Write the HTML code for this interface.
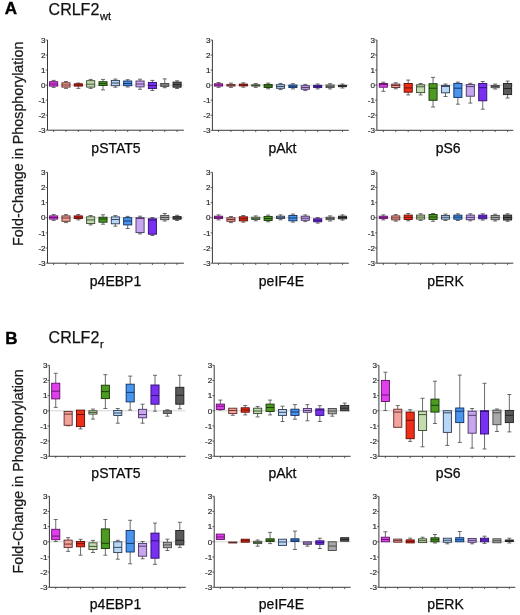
<!DOCTYPE html>
<html><head><meta charset="utf-8">
<style>
html,body{margin:0;padding:0;background:#fff;}
body{width:520px;height:615px;overflow:hidden;}
svg{display:block;font-family:"Liberation Sans",sans-serif;will-change:transform;}
.t{font-size:8.1px;fill:#1c1c1c;text-anchor:end;stroke:#2a2a2a;stroke-width:0.18px;}
.l{font-size:14px;fill:#0a0a0a;text-anchor:middle;stroke:#0a0a0a;stroke-width:0.25px;}
.h{font-size:16px;fill:#111;stroke:#111;stroke-width:0.25px;}
.b{font-size:17px;font-weight:bold;fill:#000;stroke:#000;stroke-width:0.4px;}
.y{font-size:14.3px;fill:#1a1a1a;text-anchor:middle;stroke:#1a1a1a;stroke-width:0.25px;}
</style></head>
<body>
<svg width="520" height="615" viewBox="0 0 520 615">
<text x="4.8" y="13.8" class="b">A</text>
<text x="48.6" y="15.3" class="h">CRLF2<tspan font-size="11" dx="0.8" dy="4.2">wt</tspan></text>
<text x="5.2" y="344" class="b">B</text>
<text x="48.6" y="343.3" class="h">CRLF2<tspan font-size="11" dx="0.8" dy="4.2">r</tspan></text>
<text transform="translate(23.2 143.8) rotate(-90)" class="y">Fold-Change in Phosphorylation</text>
<text transform="translate(23.2 471.4) rotate(-90)" class="y">Fold-Change in Phosphorylation</text>
<line x1="47.5" y1="85.1" x2="183.9" y2="85.1" stroke="#d2d2d2" stroke-width="0.9"/>
<line x1="53.63" y1="80.4" x2="53.63" y2="81.7" stroke="#5a5a5a" stroke-width="0.9"/>
<line x1="51.63" y1="80.4" x2="55.63" y2="80.4" stroke="#5a5a5a" stroke-width="0.9"/>
<line x1="53.63" y1="86.1" x2="53.63" y2="87.4" stroke="#5a5a5a" stroke-width="0.9"/>
<line x1="51.63" y1="87.4" x2="55.63" y2="87.4" stroke="#5a5a5a" stroke-width="0.9"/>
<rect x="49.58" y="81.7" width="8.1" height="4.4" fill="#e040ec" stroke="#5e1064" stroke-width="0.9"/>
<line x1="49.58" y1="84" x2="57.68" y2="84" stroke="#5e1064" stroke-width="0.9"/>
<line x1="65.98" y1="81.5" x2="65.98" y2="82.8" stroke="#5a5a5a" stroke-width="0.9"/>
<line x1="63.98" y1="81.5" x2="67.98" y2="81.5" stroke="#5a5a5a" stroke-width="0.9"/>
<line x1="65.98" y1="87.1" x2="65.98" y2="88.4" stroke="#5a5a5a" stroke-width="0.9"/>
<line x1="63.98" y1="88.4" x2="67.98" y2="88.4" stroke="#5a5a5a" stroke-width="0.9"/>
<rect x="61.93" y="82.8" width="8.1" height="4.3" fill="#f2a49c" stroke="#602826" stroke-width="0.9"/>
<line x1="61.93" y1="85" x2="70.03" y2="85" stroke="#602826" stroke-width="0.9"/>
<line x1="78.32" y1="83" x2="78.32" y2="83.8" stroke="#5a5a5a" stroke-width="0.9"/>
<line x1="76.32" y1="83" x2="80.32" y2="83" stroke="#5a5a5a" stroke-width="0.9"/>
<line x1="78.32" y1="86.1" x2="78.32" y2="88.4" stroke="#5a5a5a" stroke-width="0.9"/>
<line x1="76.32" y1="88.4" x2="80.32" y2="88.4" stroke="#5a5a5a" stroke-width="0.9"/>
<rect x="74.27" y="83.8" width="8.1" height="2.3" fill="#ee2e16" stroke="#5c0a04" stroke-width="0.9"/>
<line x1="74.27" y1="85" x2="82.37" y2="85" stroke="#5c0a04" stroke-width="0.9"/>
<line x1="90.67" y1="79.4" x2="90.67" y2="80.7" stroke="#5a5a5a" stroke-width="0.9"/>
<line x1="88.67" y1="79.4" x2="92.67" y2="79.4" stroke="#5a5a5a" stroke-width="0.9"/>
<line x1="90.67" y1="87.1" x2="90.67" y2="88.4" stroke="#5a5a5a" stroke-width="0.9"/>
<line x1="88.67" y1="88.4" x2="92.67" y2="88.4" stroke="#5a5a5a" stroke-width="0.9"/>
<rect x="86.62" y="80.7" width="8.1" height="6.4" fill="#c2dcb0" stroke="#38462f" stroke-width="0.9"/>
<line x1="86.62" y1="84.2" x2="94.72" y2="84.2" stroke="#38462f" stroke-width="0.9"/>
<line x1="103.01" y1="79.4" x2="103.01" y2="81.7" stroke="#5a5a5a" stroke-width="0.9"/>
<line x1="101.01" y1="79.4" x2="105.01" y2="79.4" stroke="#5a5a5a" stroke-width="0.9"/>
<line x1="103.01" y1="85.5" x2="103.01" y2="89.9" stroke="#5a5a5a" stroke-width="0.9"/>
<line x1="101.01" y1="89.9" x2="105.01" y2="89.9" stroke="#5a5a5a" stroke-width="0.9"/>
<rect x="98.96" y="81.7" width="8.1" height="3.8" fill="#4c9a22" stroke="#163608" stroke-width="0.9"/>
<line x1="98.96" y1="83.6" x2="107.06" y2="83.6" stroke="#163608" stroke-width="0.9"/>
<line x1="115.36" y1="79.1" x2="115.36" y2="80.4" stroke="#5a5a5a" stroke-width="0.9"/>
<line x1="113.36" y1="79.1" x2="117.36" y2="79.1" stroke="#5a5a5a" stroke-width="0.9"/>
<line x1="115.36" y1="85.7" x2="115.36" y2="87.2" stroke="#5a5a5a" stroke-width="0.9"/>
<line x1="113.36" y1="87.2" x2="117.36" y2="87.2" stroke="#5a5a5a" stroke-width="0.9"/>
<rect x="111.31" y="80.4" width="8.1" height="5.3" fill="#b8d6f6" stroke="#2c3a52" stroke-width="0.9"/>
<line x1="111.31" y1="83" x2="119.41" y2="83" stroke="#2c3a52" stroke-width="0.9"/>
<line x1="127.7" y1="79.7" x2="127.7" y2="81" stroke="#5a5a5a" stroke-width="0.9"/>
<line x1="125.7" y1="79.7" x2="129.7" y2="79.7" stroke="#5a5a5a" stroke-width="0.9"/>
<line x1="127.7" y1="85.7" x2="127.7" y2="87" stroke="#5a5a5a" stroke-width="0.9"/>
<line x1="125.7" y1="87" x2="129.7" y2="87" stroke="#5a5a5a" stroke-width="0.9"/>
<rect x="123.65" y="81" width="8.1" height="4.7" fill="#4a94ee" stroke="#0e2e5e" stroke-width="0.9"/>
<line x1="123.65" y1="83.5" x2="131.75" y2="83.5" stroke="#0e2e5e" stroke-width="0.9"/>
<line x1="140.05" y1="79.2" x2="140.05" y2="81" stroke="#5a5a5a" stroke-width="0.9"/>
<line x1="138.05" y1="79.2" x2="142.05" y2="79.2" stroke="#5a5a5a" stroke-width="0.9"/>
<line x1="140.05" y1="86.9" x2="140.05" y2="89.3" stroke="#5a5a5a" stroke-width="0.9"/>
<line x1="138.05" y1="89.3" x2="142.05" y2="89.3" stroke="#5a5a5a" stroke-width="0.9"/>
<rect x="136" y="81" width="8.1" height="5.9" fill="#c8a6ee" stroke="#463462" stroke-width="0.9"/>
<line x1="136" y1="84" x2="144.09" y2="84" stroke="#463462" stroke-width="0.9"/>
<line x1="152.39" y1="80.4" x2="152.39" y2="82.4" stroke="#5a5a5a" stroke-width="0.9"/>
<line x1="150.39" y1="80.4" x2="154.39" y2="80.4" stroke="#5a5a5a" stroke-width="0.9"/>
<line x1="152.39" y1="88.6" x2="152.39" y2="90.5" stroke="#5a5a5a" stroke-width="0.9"/>
<line x1="150.39" y1="90.5" x2="154.39" y2="90.5" stroke="#5a5a5a" stroke-width="0.9"/>
<rect x="148.34" y="82.4" width="8.1" height="6.2" fill="#7a30f0" stroke="#2c0e6e" stroke-width="0.9"/>
<line x1="148.34" y1="85.5" x2="156.44" y2="85.5" stroke="#2c0e6e" stroke-width="0.9"/>
<line x1="164.74" y1="78.9" x2="164.74" y2="83.5" stroke="#5a5a5a" stroke-width="0.9"/>
<line x1="162.74" y1="78.9" x2="166.74" y2="78.9" stroke="#5a5a5a" stroke-width="0.9"/>
<line x1="164.74" y1="86.4" x2="164.74" y2="87.7" stroke="#5a5a5a" stroke-width="0.9"/>
<line x1="162.74" y1="87.7" x2="166.74" y2="87.7" stroke="#5a5a5a" stroke-width="0.9"/>
<rect x="160.69" y="83.5" width="8.1" height="2.9" fill="#a8a8a8" stroke="#444444" stroke-width="0.9"/>
<line x1="160.69" y1="85" x2="168.78" y2="85" stroke="#444444" stroke-width="0.9"/>
<line x1="177.08" y1="80.8" x2="177.08" y2="82.1" stroke="#5a5a5a" stroke-width="0.9"/>
<line x1="175.08" y1="80.8" x2="179.08" y2="80.8" stroke="#5a5a5a" stroke-width="0.9"/>
<line x1="177.08" y1="87.2" x2="177.08" y2="88.5" stroke="#5a5a5a" stroke-width="0.9"/>
<line x1="175.08" y1="88.5" x2="179.08" y2="88.5" stroke="#5a5a5a" stroke-width="0.9"/>
<rect x="173.03" y="82.1" width="8.1" height="5.1" fill="#5a5a5a" stroke="#1e1e1e" stroke-width="0.9"/>
<line x1="173.03" y1="84.6" x2="181.13" y2="84.6" stroke="#1e1e1e" stroke-width="0.9"/>
<path d="M47.5 40V130.2H183.9" fill="none" stroke="#3a3a3a" stroke-width="1"/>
<line x1="45.7" y1="40" x2="47.5" y2="40" stroke="#3a3a3a" stroke-width="0.8"/>
<text x="45.6" y="42.7" class="t">3</text>
<line x1="45.7" y1="55.03" x2="47.5" y2="55.03" stroke="#3a3a3a" stroke-width="0.8"/>
<text x="45.6" y="57.73" class="t">2</text>
<line x1="45.7" y1="70.07" x2="47.5" y2="70.07" stroke="#3a3a3a" stroke-width="0.8"/>
<text x="45.6" y="72.77" class="t">1</text>
<line x1="45.7" y1="85.1" x2="47.5" y2="85.1" stroke="#3a3a3a" stroke-width="0.8"/>
<text x="45.6" y="87.8" class="t">0</text>
<line x1="45.7" y1="100.13" x2="47.5" y2="100.13" stroke="#3a3a3a" stroke-width="0.8"/>
<text x="45.6" y="102.83" class="t">-1</text>
<line x1="45.7" y1="115.17" x2="47.5" y2="115.17" stroke="#3a3a3a" stroke-width="0.8"/>
<text x="45.6" y="117.87" class="t">-2</text>
<line x1="45.7" y1="130.2" x2="47.5" y2="130.2" stroke="#3a3a3a" stroke-width="0.8"/>
<text x="45.6" y="132.9" class="t">-3</text>
<line x1="53.63" y1="130.2" x2="53.63" y2="132" stroke="#3a3a3a" stroke-width="0.8"/>
<line x1="65.98" y1="130.2" x2="65.98" y2="132" stroke="#3a3a3a" stroke-width="0.8"/>
<line x1="78.32" y1="130.2" x2="78.32" y2="132" stroke="#3a3a3a" stroke-width="0.8"/>
<line x1="90.67" y1="130.2" x2="90.67" y2="132" stroke="#3a3a3a" stroke-width="0.8"/>
<line x1="103.01" y1="130.2" x2="103.01" y2="132" stroke="#3a3a3a" stroke-width="0.8"/>
<line x1="115.36" y1="130.2" x2="115.36" y2="132" stroke="#3a3a3a" stroke-width="0.8"/>
<line x1="127.7" y1="130.2" x2="127.7" y2="132" stroke="#3a3a3a" stroke-width="0.8"/>
<line x1="140.05" y1="130.2" x2="140.05" y2="132" stroke="#3a3a3a" stroke-width="0.8"/>
<line x1="152.39" y1="130.2" x2="152.39" y2="132" stroke="#3a3a3a" stroke-width="0.8"/>
<line x1="164.74" y1="130.2" x2="164.74" y2="132" stroke="#3a3a3a" stroke-width="0.8"/>
<line x1="177.08" y1="130.2" x2="177.08" y2="132" stroke="#3a3a3a" stroke-width="0.8"/>
<text x="116" y="153.2" class="l">pSTAT5</text>
<line x1="212.4" y1="85.15" x2="348.8" y2="85.15" stroke="#d2d2d2" stroke-width="0.9"/>
<line x1="218.56" y1="82.5" x2="218.56" y2="83.8" stroke="#5a5a5a" stroke-width="0.9"/>
<line x1="216.56" y1="82.5" x2="220.56" y2="82.5" stroke="#5a5a5a" stroke-width="0.9"/>
<line x1="218.56" y1="86.1" x2="218.56" y2="87.4" stroke="#5a5a5a" stroke-width="0.9"/>
<line x1="216.56" y1="87.4" x2="220.56" y2="87.4" stroke="#5a5a5a" stroke-width="0.9"/>
<rect x="214.51" y="83.8" width="8.1" height="2.3" fill="#e040ec" stroke="#5e1064" stroke-width="0.9"/>
<line x1="214.51" y1="84.95" x2="222.61" y2="84.95" stroke="#5e1064" stroke-width="0.9"/>
<line x1="230.95" y1="83.1" x2="230.95" y2="84.4" stroke="#5a5a5a" stroke-width="0.9"/>
<line x1="228.95" y1="83.1" x2="232.95" y2="83.1" stroke="#5a5a5a" stroke-width="0.9"/>
<line x1="230.95" y1="86.1" x2="230.95" y2="87.4" stroke="#5a5a5a" stroke-width="0.9"/>
<line x1="228.95" y1="87.4" x2="232.95" y2="87.4" stroke="#5a5a5a" stroke-width="0.9"/>
<rect x="226.9" y="84.4" width="8.1" height="1.7" fill="#f2a49c" stroke="#602826" stroke-width="0.9"/>
<line x1="226.9" y1="85.25" x2="235" y2="85.25" stroke="#602826" stroke-width="0.9"/>
<line x1="243.34" y1="82.8" x2="243.34" y2="84.1" stroke="#5a5a5a" stroke-width="0.9"/>
<line x1="241.34" y1="82.8" x2="245.34" y2="82.8" stroke="#5a5a5a" stroke-width="0.9"/>
<line x1="243.34" y1="85.9" x2="243.34" y2="87.2" stroke="#5a5a5a" stroke-width="0.9"/>
<line x1="241.34" y1="87.2" x2="245.34" y2="87.2" stroke="#5a5a5a" stroke-width="0.9"/>
<rect x="239.29" y="84.1" width="8.1" height="1.8" fill="#ee2e16" stroke="#5c0a04" stroke-width="0.9"/>
<line x1="239.29" y1="85" x2="247.39" y2="85" stroke="#5c0a04" stroke-width="0.9"/>
<line x1="255.74" y1="83.5" x2="255.74" y2="84.8" stroke="#5a5a5a" stroke-width="0.9"/>
<line x1="253.74" y1="83.5" x2="257.74" y2="83.5" stroke="#5a5a5a" stroke-width="0.9"/>
<line x1="255.74" y1="86.1" x2="255.74" y2="87.4" stroke="#5a5a5a" stroke-width="0.9"/>
<line x1="253.74" y1="87.4" x2="257.74" y2="87.4" stroke="#5a5a5a" stroke-width="0.9"/>
<rect x="251.69" y="84.8" width="8.1" height="1.3" fill="#c2dcb0" stroke="#38462f" stroke-width="0.9"/>
<line x1="251.69" y1="85.45" x2="259.79" y2="85.45" stroke="#38462f" stroke-width="0.9"/>
<line x1="268.13" y1="83.1" x2="268.13" y2="84.4" stroke="#5a5a5a" stroke-width="0.9"/>
<line x1="266.13" y1="83.1" x2="270.13" y2="83.1" stroke="#5a5a5a" stroke-width="0.9"/>
<line x1="268.13" y1="87.5" x2="268.13" y2="88.8" stroke="#5a5a5a" stroke-width="0.9"/>
<line x1="266.13" y1="88.8" x2="270.13" y2="88.8" stroke="#5a5a5a" stroke-width="0.9"/>
<rect x="264.08" y="84.4" width="8.1" height="3.1" fill="#4c9a22" stroke="#163608" stroke-width="0.9"/>
<line x1="264.08" y1="85.95" x2="272.18" y2="85.95" stroke="#163608" stroke-width="0.9"/>
<line x1="280.52" y1="83.4" x2="280.52" y2="84.7" stroke="#5a5a5a" stroke-width="0.9"/>
<line x1="278.52" y1="83.4" x2="282.52" y2="83.4" stroke="#5a5a5a" stroke-width="0.9"/>
<line x1="280.52" y1="88.3" x2="280.52" y2="89.6" stroke="#5a5a5a" stroke-width="0.9"/>
<line x1="278.52" y1="89.6" x2="282.52" y2="89.6" stroke="#5a5a5a" stroke-width="0.9"/>
<rect x="276.47" y="84.7" width="8.1" height="3.6" fill="#b8d6f6" stroke="#2c3a52" stroke-width="0.9"/>
<line x1="276.47" y1="86.5" x2="284.57" y2="86.5" stroke="#2c3a52" stroke-width="0.9"/>
<line x1="292.91" y1="83.7" x2="292.91" y2="85" stroke="#5a5a5a" stroke-width="0.9"/>
<line x1="290.91" y1="83.7" x2="294.91" y2="83.7" stroke="#5a5a5a" stroke-width="0.9"/>
<line x1="292.91" y1="87.6" x2="292.91" y2="88.9" stroke="#5a5a5a" stroke-width="0.9"/>
<line x1="290.91" y1="88.9" x2="294.91" y2="88.9" stroke="#5a5a5a" stroke-width="0.9"/>
<rect x="288.86" y="85" width="8.1" height="2.6" fill="#4a94ee" stroke="#0e2e5e" stroke-width="0.9"/>
<line x1="288.86" y1="86.3" x2="296.96" y2="86.3" stroke="#0e2e5e" stroke-width="0.9"/>
<line x1="305.3" y1="84.4" x2="305.3" y2="85.7" stroke="#5a5a5a" stroke-width="0.9"/>
<line x1="303.3" y1="84.4" x2="307.3" y2="84.4" stroke="#5a5a5a" stroke-width="0.9"/>
<line x1="305.3" y1="89.3" x2="305.3" y2="90.6" stroke="#5a5a5a" stroke-width="0.9"/>
<line x1="303.3" y1="90.6" x2="307.3" y2="90.6" stroke="#5a5a5a" stroke-width="0.9"/>
<rect x="301.25" y="85.7" width="8.1" height="3.6" fill="#c8a6ee" stroke="#463462" stroke-width="0.9"/>
<line x1="301.25" y1="87.5" x2="309.35" y2="87.5" stroke="#463462" stroke-width="0.9"/>
<line x1="317.7" y1="84" x2="317.7" y2="85.3" stroke="#5a5a5a" stroke-width="0.9"/>
<line x1="315.7" y1="84" x2="319.7" y2="84" stroke="#5a5a5a" stroke-width="0.9"/>
<line x1="317.7" y1="87.6" x2="317.7" y2="88.9" stroke="#5a5a5a" stroke-width="0.9"/>
<line x1="315.7" y1="88.9" x2="319.7" y2="88.9" stroke="#5a5a5a" stroke-width="0.9"/>
<rect x="313.65" y="85.3" width="8.1" height="2.3" fill="#7a30f0" stroke="#2c0e6e" stroke-width="0.9"/>
<line x1="313.65" y1="86.45" x2="321.75" y2="86.45" stroke="#2c0e6e" stroke-width="0.9"/>
<line x1="330.09" y1="83.7" x2="330.09" y2="85" stroke="#5a5a5a" stroke-width="0.9"/>
<line x1="328.09" y1="83.7" x2="332.09" y2="83.7" stroke="#5a5a5a" stroke-width="0.9"/>
<line x1="330.09" y1="87.6" x2="330.09" y2="88.9" stroke="#5a5a5a" stroke-width="0.9"/>
<line x1="328.09" y1="88.9" x2="332.09" y2="88.9" stroke="#5a5a5a" stroke-width="0.9"/>
<rect x="326.04" y="85" width="8.1" height="2.6" fill="#a8a8a8" stroke="#444444" stroke-width="0.9"/>
<line x1="326.04" y1="86.3" x2="334.14" y2="86.3" stroke="#444444" stroke-width="0.9"/>
<line x1="342.48" y1="84" x2="342.48" y2="85.3" stroke="#5a5a5a" stroke-width="0.9"/>
<line x1="340.48" y1="84" x2="344.48" y2="84" stroke="#5a5a5a" stroke-width="0.9"/>
<line x1="342.48" y1="86.7" x2="342.48" y2="88" stroke="#5a5a5a" stroke-width="0.9"/>
<line x1="340.48" y1="88" x2="344.48" y2="88" stroke="#5a5a5a" stroke-width="0.9"/>
<rect x="338.43" y="85.3" width="8.1" height="1.4" fill="#5a5a5a" stroke="#1e1e1e" stroke-width="0.9"/>
<line x1="338.43" y1="86" x2="346.53" y2="86" stroke="#1e1e1e" stroke-width="0.9"/>
<path d="M212.4 40V130.3H348.8" fill="none" stroke="#3a3a3a" stroke-width="1"/>
<line x1="210.6" y1="40" x2="212.4" y2="40" stroke="#3a3a3a" stroke-width="0.8"/>
<text x="210.5" y="42.7" class="t">3</text>
<line x1="210.6" y1="55.05" x2="212.4" y2="55.05" stroke="#3a3a3a" stroke-width="0.8"/>
<text x="210.5" y="57.75" class="t">2</text>
<line x1="210.6" y1="70.1" x2="212.4" y2="70.1" stroke="#3a3a3a" stroke-width="0.8"/>
<text x="210.5" y="72.8" class="t">1</text>
<line x1="210.6" y1="85.15" x2="212.4" y2="85.15" stroke="#3a3a3a" stroke-width="0.8"/>
<text x="210.5" y="87.85" class="t">0</text>
<line x1="210.6" y1="100.2" x2="212.4" y2="100.2" stroke="#3a3a3a" stroke-width="0.8"/>
<text x="210.5" y="102.9" class="t">-1</text>
<line x1="210.6" y1="115.25" x2="212.4" y2="115.25" stroke="#3a3a3a" stroke-width="0.8"/>
<text x="210.5" y="117.95" class="t">-2</text>
<line x1="210.6" y1="130.3" x2="212.4" y2="130.3" stroke="#3a3a3a" stroke-width="0.8"/>
<text x="210.5" y="133" class="t">-3</text>
<line x1="218.56" y1="130.3" x2="218.56" y2="132.1" stroke="#3a3a3a" stroke-width="0.8"/>
<line x1="230.95" y1="130.3" x2="230.95" y2="132.1" stroke="#3a3a3a" stroke-width="0.8"/>
<line x1="243.34" y1="130.3" x2="243.34" y2="132.1" stroke="#3a3a3a" stroke-width="0.8"/>
<line x1="255.74" y1="130.3" x2="255.74" y2="132.1" stroke="#3a3a3a" stroke-width="0.8"/>
<line x1="268.13" y1="130.3" x2="268.13" y2="132.1" stroke="#3a3a3a" stroke-width="0.8"/>
<line x1="280.52" y1="130.3" x2="280.52" y2="132.1" stroke="#3a3a3a" stroke-width="0.8"/>
<line x1="292.91" y1="130.3" x2="292.91" y2="132.1" stroke="#3a3a3a" stroke-width="0.8"/>
<line x1="305.3" y1="130.3" x2="305.3" y2="132.1" stroke="#3a3a3a" stroke-width="0.8"/>
<line x1="317.7" y1="130.3" x2="317.7" y2="132.1" stroke="#3a3a3a" stroke-width="0.8"/>
<line x1="330.09" y1="130.3" x2="330.09" y2="132.1" stroke="#3a3a3a" stroke-width="0.8"/>
<line x1="342.48" y1="130.3" x2="342.48" y2="132.1" stroke="#3a3a3a" stroke-width="0.8"/>
<text x="282.4" y="153.2" class="l">pAkt</text>
<line x1="376.9" y1="85.15" x2="513.3" y2="85.15" stroke="#d2d2d2" stroke-width="0.9"/>
<line x1="383.35" y1="82.2" x2="383.35" y2="83.5" stroke="#5a5a5a" stroke-width="0.9"/>
<line x1="381.35" y1="82.2" x2="385.35" y2="82.2" stroke="#5a5a5a" stroke-width="0.9"/>
<line x1="383.35" y1="87.2" x2="383.35" y2="91.3" stroke="#5a5a5a" stroke-width="0.9"/>
<line x1="381.35" y1="91.3" x2="385.35" y2="91.3" stroke="#5a5a5a" stroke-width="0.9"/>
<rect x="379.3" y="83.5" width="8.1" height="3.7" fill="#e040ec" stroke="#5e1064" stroke-width="0.9"/>
<line x1="379.3" y1="84.5" x2="387.4" y2="84.5" stroke="#5e1064" stroke-width="0.9"/>
<line x1="395.77" y1="82.8" x2="395.77" y2="84.1" stroke="#5a5a5a" stroke-width="0.9"/>
<line x1="393.77" y1="82.8" x2="397.77" y2="82.8" stroke="#5a5a5a" stroke-width="0.9"/>
<line x1="395.77" y1="87.5" x2="395.77" y2="88.8" stroke="#5a5a5a" stroke-width="0.9"/>
<line x1="393.77" y1="88.8" x2="397.77" y2="88.8" stroke="#5a5a5a" stroke-width="0.9"/>
<rect x="391.72" y="84.1" width="8.1" height="3.4" fill="#f2a49c" stroke="#602826" stroke-width="0.9"/>
<line x1="391.72" y1="85.5" x2="399.82" y2="85.5" stroke="#602826" stroke-width="0.9"/>
<line x1="408.2" y1="80.1" x2="408.2" y2="83.5" stroke="#5a5a5a" stroke-width="0.9"/>
<line x1="406.2" y1="80.1" x2="410.2" y2="80.1" stroke="#5a5a5a" stroke-width="0.9"/>
<line x1="408.2" y1="92.2" x2="408.2" y2="94.9" stroke="#5a5a5a" stroke-width="0.9"/>
<line x1="406.2" y1="94.9" x2="410.2" y2="94.9" stroke="#5a5a5a" stroke-width="0.9"/>
<rect x="404.15" y="83.5" width="8.1" height="8.7" fill="#ee2e16" stroke="#5c0a04" stroke-width="0.9"/>
<line x1="404.15" y1="87.9" x2="412.25" y2="87.9" stroke="#5c0a04" stroke-width="0.9"/>
<line x1="420.62" y1="83.5" x2="420.62" y2="84.8" stroke="#5a5a5a" stroke-width="0.9"/>
<line x1="418.62" y1="83.5" x2="422.62" y2="83.5" stroke="#5a5a5a" stroke-width="0.9"/>
<line x1="420.62" y1="92.6" x2="420.62" y2="94.9" stroke="#5a5a5a" stroke-width="0.9"/>
<line x1="418.62" y1="94.9" x2="422.62" y2="94.9" stroke="#5a5a5a" stroke-width="0.9"/>
<rect x="416.57" y="84.8" width="8.1" height="7.8" fill="#c2dcb0" stroke="#38462f" stroke-width="0.9"/>
<line x1="416.57" y1="86.8" x2="424.67" y2="86.8" stroke="#38462f" stroke-width="0.9"/>
<line x1="433.05" y1="77.4" x2="433.05" y2="83.7" stroke="#5a5a5a" stroke-width="0.9"/>
<line x1="431.05" y1="77.4" x2="435.05" y2="77.4" stroke="#5a5a5a" stroke-width="0.9"/>
<line x1="433.05" y1="100.3" x2="433.05" y2="107" stroke="#5a5a5a" stroke-width="0.9"/>
<line x1="431.05" y1="107" x2="435.05" y2="107" stroke="#5a5a5a" stroke-width="0.9"/>
<rect x="429" y="83.7" width="8.1" height="16.6" fill="#4c9a22" stroke="#163608" stroke-width="0.9"/>
<line x1="429" y1="88.2" x2="437.1" y2="88.2" stroke="#163608" stroke-width="0.9"/>
<line x1="445.47" y1="84.1" x2="445.47" y2="85.4" stroke="#5a5a5a" stroke-width="0.9"/>
<line x1="443.47" y1="84.1" x2="447.47" y2="84.1" stroke="#5a5a5a" stroke-width="0.9"/>
<line x1="445.47" y1="92.8" x2="445.47" y2="96.5" stroke="#5a5a5a" stroke-width="0.9"/>
<line x1="443.47" y1="96.5" x2="447.47" y2="96.5" stroke="#5a5a5a" stroke-width="0.9"/>
<rect x="441.42" y="85.4" width="8.1" height="7.4" fill="#b8d6f6" stroke="#2c3a52" stroke-width="0.9"/>
<line x1="441.42" y1="86.5" x2="449.52" y2="86.5" stroke="#2c3a52" stroke-width="0.9"/>
<line x1="457.89" y1="82.1" x2="457.89" y2="83.4" stroke="#5a5a5a" stroke-width="0.9"/>
<line x1="455.89" y1="82.1" x2="459.89" y2="82.1" stroke="#5a5a5a" stroke-width="0.9"/>
<line x1="457.89" y1="97.4" x2="457.89" y2="104.2" stroke="#5a5a5a" stroke-width="0.9"/>
<line x1="455.89" y1="104.2" x2="459.89" y2="104.2" stroke="#5a5a5a" stroke-width="0.9"/>
<rect x="453.84" y="83.4" width="8.1" height="14" fill="#4a94ee" stroke="#0e2e5e" stroke-width="0.9"/>
<line x1="453.84" y1="88.2" x2="461.94" y2="88.2" stroke="#0e2e5e" stroke-width="0.9"/>
<line x1="470.32" y1="83.3" x2="470.32" y2="84.6" stroke="#5a5a5a" stroke-width="0.9"/>
<line x1="468.32" y1="83.3" x2="472.32" y2="83.3" stroke="#5a5a5a" stroke-width="0.9"/>
<line x1="470.32" y1="96.2" x2="470.32" y2="103.1" stroke="#5a5a5a" stroke-width="0.9"/>
<line x1="468.32" y1="103.1" x2="472.32" y2="103.1" stroke="#5a5a5a" stroke-width="0.9"/>
<rect x="466.27" y="84.6" width="8.1" height="11.6" fill="#c8a6ee" stroke="#463462" stroke-width="0.9"/>
<line x1="466.27" y1="86.6" x2="474.37" y2="86.6" stroke="#463462" stroke-width="0.9"/>
<line x1="482.74" y1="81.5" x2="482.74" y2="83.5" stroke="#5a5a5a" stroke-width="0.9"/>
<line x1="480.74" y1="81.5" x2="484.74" y2="81.5" stroke="#5a5a5a" stroke-width="0.9"/>
<line x1="482.74" y1="100.8" x2="482.74" y2="109.2" stroke="#5a5a5a" stroke-width="0.9"/>
<line x1="480.74" y1="109.2" x2="484.74" y2="109.2" stroke="#5a5a5a" stroke-width="0.9"/>
<rect x="478.69" y="83.5" width="8.1" height="17.3" fill="#7a30f0" stroke="#2c0e6e" stroke-width="0.9"/>
<line x1="478.69" y1="87.7" x2="486.79" y2="87.7" stroke="#2c0e6e" stroke-width="0.9"/>
<line x1="495.17" y1="84.1" x2="495.17" y2="85.4" stroke="#5a5a5a" stroke-width="0.9"/>
<line x1="493.17" y1="84.1" x2="497.17" y2="84.1" stroke="#5a5a5a" stroke-width="0.9"/>
<line x1="495.17" y1="87.7" x2="495.17" y2="89" stroke="#5a5a5a" stroke-width="0.9"/>
<line x1="493.17" y1="89" x2="497.17" y2="89" stroke="#5a5a5a" stroke-width="0.9"/>
<rect x="491.12" y="85.4" width="8.1" height="2.3" fill="#a8a8a8" stroke="#444444" stroke-width="0.9"/>
<line x1="491.12" y1="86.5" x2="499.22" y2="86.5" stroke="#444444" stroke-width="0.9"/>
<line x1="507.59" y1="81.1" x2="507.59" y2="83.5" stroke="#5a5a5a" stroke-width="0.9"/>
<line x1="505.59" y1="81.1" x2="509.59" y2="81.1" stroke="#5a5a5a" stroke-width="0.9"/>
<line x1="507.59" y1="94.6" x2="507.59" y2="98" stroke="#5a5a5a" stroke-width="0.9"/>
<line x1="505.59" y1="98" x2="509.59" y2="98" stroke="#5a5a5a" stroke-width="0.9"/>
<rect x="503.54" y="83.5" width="8.1" height="11.1" fill="#5a5a5a" stroke="#1e1e1e" stroke-width="0.9"/>
<line x1="503.54" y1="88.5" x2="511.64" y2="88.5" stroke="#1e1e1e" stroke-width="0.9"/>
<path d="M376.9 40V130.3H513.3" fill="none" stroke="#3a3a3a" stroke-width="1"/>
<line x1="375.1" y1="40" x2="376.9" y2="40" stroke="#3a3a3a" stroke-width="0.8"/>
<text x="375" y="42.7" class="t">3</text>
<line x1="375.1" y1="55.05" x2="376.9" y2="55.05" stroke="#3a3a3a" stroke-width="0.8"/>
<text x="375" y="57.75" class="t">2</text>
<line x1="375.1" y1="70.1" x2="376.9" y2="70.1" stroke="#3a3a3a" stroke-width="0.8"/>
<text x="375" y="72.8" class="t">1</text>
<line x1="375.1" y1="85.15" x2="376.9" y2="85.15" stroke="#3a3a3a" stroke-width="0.8"/>
<text x="375" y="87.85" class="t">0</text>
<line x1="375.1" y1="100.2" x2="376.9" y2="100.2" stroke="#3a3a3a" stroke-width="0.8"/>
<text x="375" y="102.9" class="t">-1</text>
<line x1="375.1" y1="115.25" x2="376.9" y2="115.25" stroke="#3a3a3a" stroke-width="0.8"/>
<text x="375" y="117.95" class="t">-2</text>
<line x1="375.1" y1="130.3" x2="376.9" y2="130.3" stroke="#3a3a3a" stroke-width="0.8"/>
<text x="375" y="133" class="t">-3</text>
<line x1="383.35" y1="130.3" x2="383.35" y2="132.1" stroke="#3a3a3a" stroke-width="0.8"/>
<line x1="395.77" y1="130.3" x2="395.77" y2="132.1" stroke="#3a3a3a" stroke-width="0.8"/>
<line x1="408.2" y1="130.3" x2="408.2" y2="132.1" stroke="#3a3a3a" stroke-width="0.8"/>
<line x1="420.62" y1="130.3" x2="420.62" y2="132.1" stroke="#3a3a3a" stroke-width="0.8"/>
<line x1="433.05" y1="130.3" x2="433.05" y2="132.1" stroke="#3a3a3a" stroke-width="0.8"/>
<line x1="445.47" y1="130.3" x2="445.47" y2="132.1" stroke="#3a3a3a" stroke-width="0.8"/>
<line x1="457.89" y1="130.3" x2="457.89" y2="132.1" stroke="#3a3a3a" stroke-width="0.8"/>
<line x1="470.32" y1="130.3" x2="470.32" y2="132.1" stroke="#3a3a3a" stroke-width="0.8"/>
<line x1="482.74" y1="130.3" x2="482.74" y2="132.1" stroke="#3a3a3a" stroke-width="0.8"/>
<line x1="495.17" y1="130.3" x2="495.17" y2="132.1" stroke="#3a3a3a" stroke-width="0.8"/>
<line x1="507.59" y1="130.3" x2="507.59" y2="132.1" stroke="#3a3a3a" stroke-width="0.8"/>
<text x="448.1" y="153.2" class="l">pS6</text>
<line x1="47.5" y1="217.75" x2="183.9" y2="217.75" stroke="#d2d2d2" stroke-width="0.9"/>
<line x1="53.63" y1="214.6" x2="53.63" y2="215.9" stroke="#5a5a5a" stroke-width="0.9"/>
<line x1="51.63" y1="214.6" x2="55.63" y2="214.6" stroke="#5a5a5a" stroke-width="0.9"/>
<line x1="53.63" y1="219.1" x2="53.63" y2="220.4" stroke="#5a5a5a" stroke-width="0.9"/>
<line x1="51.63" y1="220.4" x2="55.63" y2="220.4" stroke="#5a5a5a" stroke-width="0.9"/>
<rect x="49.58" y="215.9" width="8.1" height="3.2" fill="#e040ec" stroke="#5e1064" stroke-width="0.9"/>
<line x1="49.58" y1="217.5" x2="57.68" y2="217.5" stroke="#5e1064" stroke-width="0.9"/>
<line x1="65.98" y1="214.6" x2="65.98" y2="215.9" stroke="#5a5a5a" stroke-width="0.9"/>
<line x1="63.98" y1="214.6" x2="67.98" y2="214.6" stroke="#5a5a5a" stroke-width="0.9"/>
<line x1="65.98" y1="221.3" x2="65.98" y2="222.6" stroke="#5a5a5a" stroke-width="0.9"/>
<line x1="63.98" y1="222.6" x2="67.98" y2="222.6" stroke="#5a5a5a" stroke-width="0.9"/>
<rect x="61.93" y="215.9" width="8.1" height="5.4" fill="#f2a49c" stroke="#602826" stroke-width="0.9"/>
<line x1="61.93" y1="218" x2="70.03" y2="218" stroke="#602826" stroke-width="0.9"/>
<line x1="78.32" y1="214.5" x2="78.32" y2="215.9" stroke="#5a5a5a" stroke-width="0.9"/>
<line x1="76.32" y1="214.5" x2="80.32" y2="214.5" stroke="#5a5a5a" stroke-width="0.9"/>
<line x1="78.32" y1="218.6" x2="78.32" y2="219.9" stroke="#5a5a5a" stroke-width="0.9"/>
<line x1="76.32" y1="219.9" x2="80.32" y2="219.9" stroke="#5a5a5a" stroke-width="0.9"/>
<rect x="74.27" y="215.9" width="8.1" height="2.7" fill="#ee2e16" stroke="#5c0a04" stroke-width="0.9"/>
<line x1="74.27" y1="217.2" x2="82.37" y2="217.2" stroke="#5c0a04" stroke-width="0.9"/>
<line x1="90.67" y1="215.5" x2="90.67" y2="216.8" stroke="#5a5a5a" stroke-width="0.9"/>
<line x1="88.67" y1="215.5" x2="92.67" y2="215.5" stroke="#5a5a5a" stroke-width="0.9"/>
<line x1="90.67" y1="223.6" x2="90.67" y2="224.9" stroke="#5a5a5a" stroke-width="0.9"/>
<line x1="88.67" y1="224.9" x2="92.67" y2="224.9" stroke="#5a5a5a" stroke-width="0.9"/>
<rect x="86.62" y="216.8" width="8.1" height="6.8" fill="#c2dcb0" stroke="#38462f" stroke-width="0.9"/>
<line x1="86.62" y1="219.9" x2="94.72" y2="219.9" stroke="#38462f" stroke-width="0.9"/>
<line x1="103.01" y1="214.8" x2="103.01" y2="217.2" stroke="#5a5a5a" stroke-width="0.9"/>
<line x1="101.01" y1="214.8" x2="105.01" y2="214.8" stroke="#5a5a5a" stroke-width="0.9"/>
<line x1="103.01" y1="222.2" x2="103.01" y2="224.2" stroke="#5a5a5a" stroke-width="0.9"/>
<line x1="101.01" y1="224.2" x2="105.01" y2="224.2" stroke="#5a5a5a" stroke-width="0.9"/>
<rect x="98.96" y="217.2" width="8.1" height="5" fill="#4c9a22" stroke="#163608" stroke-width="0.9"/>
<line x1="98.96" y1="219" x2="107.06" y2="219" stroke="#163608" stroke-width="0.9"/>
<line x1="115.36" y1="215.6" x2="115.36" y2="216.9" stroke="#5a5a5a" stroke-width="0.9"/>
<line x1="113.36" y1="215.6" x2="117.36" y2="215.6" stroke="#5a5a5a" stroke-width="0.9"/>
<line x1="115.36" y1="223.8" x2="115.36" y2="226.2" stroke="#5a5a5a" stroke-width="0.9"/>
<line x1="113.36" y1="226.2" x2="117.36" y2="226.2" stroke="#5a5a5a" stroke-width="0.9"/>
<rect x="111.31" y="216.9" width="8.1" height="6.9" fill="#b8d6f6" stroke="#2c3a52" stroke-width="0.9"/>
<line x1="111.31" y1="219.5" x2="119.41" y2="219.5" stroke="#2c3a52" stroke-width="0.9"/>
<line x1="127.7" y1="216.4" x2="127.7" y2="217.7" stroke="#5a5a5a" stroke-width="0.9"/>
<line x1="125.7" y1="216.4" x2="129.7" y2="216.4" stroke="#5a5a5a" stroke-width="0.9"/>
<line x1="127.7" y1="224.9" x2="127.7" y2="228.5" stroke="#5a5a5a" stroke-width="0.9"/>
<line x1="125.7" y1="228.5" x2="129.7" y2="228.5" stroke="#5a5a5a" stroke-width="0.9"/>
<rect x="123.65" y="217.7" width="8.1" height="7.2" fill="#4a94ee" stroke="#0e2e5e" stroke-width="0.9"/>
<line x1="123.65" y1="221" x2="131.75" y2="221" stroke="#0e2e5e" stroke-width="0.9"/>
<line x1="140.05" y1="216.2" x2="140.05" y2="217.7" stroke="#5a5a5a" stroke-width="0.9"/>
<line x1="138.05" y1="216.2" x2="142.05" y2="216.2" stroke="#5a5a5a" stroke-width="0.9"/>
<line x1="140.05" y1="232.6" x2="140.05" y2="233.9" stroke="#5a5a5a" stroke-width="0.9"/>
<line x1="138.05" y1="233.9" x2="142.05" y2="233.9" stroke="#5a5a5a" stroke-width="0.9"/>
<rect x="136" y="217.7" width="8.1" height="14.9" fill="#c8a6ee" stroke="#463462" stroke-width="0.9"/>
<line x1="136" y1="218.5" x2="144.09" y2="218.5" stroke="#463462" stroke-width="0.9"/>
<line x1="152.39" y1="217.5" x2="152.39" y2="218.8" stroke="#5a5a5a" stroke-width="0.9"/>
<line x1="150.39" y1="217.5" x2="154.39" y2="217.5" stroke="#5a5a5a" stroke-width="0.9"/>
<line x1="152.39" y1="234.2" x2="152.39" y2="235.5" stroke="#5a5a5a" stroke-width="0.9"/>
<line x1="150.39" y1="235.5" x2="154.39" y2="235.5" stroke="#5a5a5a" stroke-width="0.9"/>
<rect x="148.34" y="218.8" width="8.1" height="15.4" fill="#7a30f0" stroke="#2c0e6e" stroke-width="0.9"/>
<line x1="148.34" y1="220" x2="156.44" y2="220" stroke="#2c0e6e" stroke-width="0.9"/>
<line x1="164.74" y1="213.5" x2="164.74" y2="215.4" stroke="#5a5a5a" stroke-width="0.9"/>
<line x1="162.74" y1="213.5" x2="166.74" y2="213.5" stroke="#5a5a5a" stroke-width="0.9"/>
<line x1="164.74" y1="219.7" x2="164.74" y2="221" stroke="#5a5a5a" stroke-width="0.9"/>
<line x1="162.74" y1="221" x2="166.74" y2="221" stroke="#5a5a5a" stroke-width="0.9"/>
<rect x="160.69" y="215.4" width="8.1" height="4.3" fill="#a8a8a8" stroke="#444444" stroke-width="0.9"/>
<line x1="160.69" y1="217.5" x2="168.78" y2="217.5" stroke="#444444" stroke-width="0.9"/>
<line x1="177.08" y1="215.3" x2="177.08" y2="216.6" stroke="#5a5a5a" stroke-width="0.9"/>
<line x1="175.08" y1="215.3" x2="179.08" y2="215.3" stroke="#5a5a5a" stroke-width="0.9"/>
<line x1="177.08" y1="219.2" x2="177.08" y2="220.5" stroke="#5a5a5a" stroke-width="0.9"/>
<line x1="175.08" y1="220.5" x2="179.08" y2="220.5" stroke="#5a5a5a" stroke-width="0.9"/>
<rect x="173.03" y="216.6" width="8.1" height="2.6" fill="#5a5a5a" stroke="#1e1e1e" stroke-width="0.9"/>
<line x1="173.03" y1="218" x2="181.13" y2="218" stroke="#1e1e1e" stroke-width="0.9"/>
<path d="M47.5 172.3V263.2H183.9" fill="none" stroke="#3a3a3a" stroke-width="1"/>
<line x1="45.7" y1="172.3" x2="47.5" y2="172.3" stroke="#3a3a3a" stroke-width="0.8"/>
<text x="45.6" y="175" class="t">3</text>
<line x1="45.7" y1="187.45" x2="47.5" y2="187.45" stroke="#3a3a3a" stroke-width="0.8"/>
<text x="45.6" y="190.15" class="t">2</text>
<line x1="45.7" y1="202.6" x2="47.5" y2="202.6" stroke="#3a3a3a" stroke-width="0.8"/>
<text x="45.6" y="205.3" class="t">1</text>
<line x1="45.7" y1="217.75" x2="47.5" y2="217.75" stroke="#3a3a3a" stroke-width="0.8"/>
<text x="45.6" y="220.45" class="t">0</text>
<line x1="45.7" y1="232.9" x2="47.5" y2="232.9" stroke="#3a3a3a" stroke-width="0.8"/>
<text x="45.6" y="235.6" class="t">-1</text>
<line x1="45.7" y1="248.05" x2="47.5" y2="248.05" stroke="#3a3a3a" stroke-width="0.8"/>
<text x="45.6" y="250.75" class="t">-2</text>
<line x1="45.7" y1="263.2" x2="47.5" y2="263.2" stroke="#3a3a3a" stroke-width="0.8"/>
<text x="45.6" y="265.9" class="t">-3</text>
<line x1="53.63" y1="263.2" x2="53.63" y2="265" stroke="#3a3a3a" stroke-width="0.8"/>
<line x1="65.98" y1="263.2" x2="65.98" y2="265" stroke="#3a3a3a" stroke-width="0.8"/>
<line x1="78.32" y1="263.2" x2="78.32" y2="265" stroke="#3a3a3a" stroke-width="0.8"/>
<line x1="90.67" y1="263.2" x2="90.67" y2="265" stroke="#3a3a3a" stroke-width="0.8"/>
<line x1="103.01" y1="263.2" x2="103.01" y2="265" stroke="#3a3a3a" stroke-width="0.8"/>
<line x1="115.36" y1="263.2" x2="115.36" y2="265" stroke="#3a3a3a" stroke-width="0.8"/>
<line x1="127.7" y1="263.2" x2="127.7" y2="265" stroke="#3a3a3a" stroke-width="0.8"/>
<line x1="140.05" y1="263.2" x2="140.05" y2="265" stroke="#3a3a3a" stroke-width="0.8"/>
<line x1="152.39" y1="263.2" x2="152.39" y2="265" stroke="#3a3a3a" stroke-width="0.8"/>
<line x1="164.74" y1="263.2" x2="164.74" y2="265" stroke="#3a3a3a" stroke-width="0.8"/>
<line x1="177.08" y1="263.2" x2="177.08" y2="265" stroke="#3a3a3a" stroke-width="0.8"/>
<text x="115.5" y="285.8" class="l">p4EBP1</text>
<line x1="212.4" y1="217.75" x2="348.8" y2="217.75" stroke="#d2d2d2" stroke-width="0.9"/>
<line x1="218.56" y1="214.9" x2="218.56" y2="216.2" stroke="#5a5a5a" stroke-width="0.9"/>
<line x1="216.56" y1="214.9" x2="220.56" y2="214.9" stroke="#5a5a5a" stroke-width="0.9"/>
<line x1="218.56" y1="218.6" x2="218.56" y2="219.9" stroke="#5a5a5a" stroke-width="0.9"/>
<line x1="216.56" y1="219.9" x2="220.56" y2="219.9" stroke="#5a5a5a" stroke-width="0.9"/>
<rect x="214.51" y="216.2" width="8.1" height="2.4" fill="#e040ec" stroke="#5e1064" stroke-width="0.9"/>
<line x1="214.51" y1="217.4" x2="222.61" y2="217.4" stroke="#5e1064" stroke-width="0.9"/>
<line x1="230.95" y1="216.5" x2="230.95" y2="217.8" stroke="#5a5a5a" stroke-width="0.9"/>
<line x1="228.95" y1="216.5" x2="232.95" y2="216.5" stroke="#5a5a5a" stroke-width="0.9"/>
<line x1="230.95" y1="221.3" x2="230.95" y2="222.6" stroke="#5a5a5a" stroke-width="0.9"/>
<line x1="228.95" y1="222.6" x2="232.95" y2="222.6" stroke="#5a5a5a" stroke-width="0.9"/>
<rect x="226.9" y="217.8" width="8.1" height="3.5" fill="#f2a49c" stroke="#602826" stroke-width="0.9"/>
<line x1="226.9" y1="219.5" x2="235" y2="219.5" stroke="#602826" stroke-width="0.9"/>
<line x1="243.34" y1="215.5" x2="243.34" y2="216.8" stroke="#5a5a5a" stroke-width="0.9"/>
<line x1="241.34" y1="215.5" x2="245.34" y2="215.5" stroke="#5a5a5a" stroke-width="0.9"/>
<line x1="243.34" y1="220.9" x2="243.34" y2="222.2" stroke="#5a5a5a" stroke-width="0.9"/>
<line x1="241.34" y1="222.2" x2="245.34" y2="222.2" stroke="#5a5a5a" stroke-width="0.9"/>
<rect x="239.29" y="216.8" width="8.1" height="4.1" fill="#ee2e16" stroke="#5c0a04" stroke-width="0.9"/>
<line x1="239.29" y1="218.8" x2="247.39" y2="218.8" stroke="#5c0a04" stroke-width="0.9"/>
<line x1="255.74" y1="215.9" x2="255.74" y2="217.2" stroke="#5a5a5a" stroke-width="0.9"/>
<line x1="253.74" y1="215.9" x2="257.74" y2="215.9" stroke="#5a5a5a" stroke-width="0.9"/>
<line x1="255.74" y1="219.5" x2="255.74" y2="220.8" stroke="#5a5a5a" stroke-width="0.9"/>
<line x1="253.74" y1="220.8" x2="257.74" y2="220.8" stroke="#5a5a5a" stroke-width="0.9"/>
<rect x="251.69" y="217.2" width="8.1" height="2.3" fill="#c2dcb0" stroke="#38462f" stroke-width="0.9"/>
<line x1="251.69" y1="218.35" x2="259.79" y2="218.35" stroke="#38462f" stroke-width="0.9"/>
<line x1="268.13" y1="215.1" x2="268.13" y2="216.4" stroke="#5a5a5a" stroke-width="0.9"/>
<line x1="266.13" y1="215.1" x2="270.13" y2="215.1" stroke="#5a5a5a" stroke-width="0.9"/>
<line x1="268.13" y1="220.5" x2="268.13" y2="221.8" stroke="#5a5a5a" stroke-width="0.9"/>
<line x1="266.13" y1="221.8" x2="270.13" y2="221.8" stroke="#5a5a5a" stroke-width="0.9"/>
<rect x="264.08" y="216.4" width="8.1" height="4.1" fill="#4c9a22" stroke="#163608" stroke-width="0.9"/>
<line x1="264.08" y1="218.5" x2="272.18" y2="218.5" stroke="#163608" stroke-width="0.9"/>
<line x1="280.52" y1="214.9" x2="280.52" y2="216.2" stroke="#5a5a5a" stroke-width="0.9"/>
<line x1="278.52" y1="214.9" x2="282.52" y2="214.9" stroke="#5a5a5a" stroke-width="0.9"/>
<line x1="280.52" y1="218.5" x2="280.52" y2="219.8" stroke="#5a5a5a" stroke-width="0.9"/>
<line x1="278.52" y1="219.8" x2="282.52" y2="219.8" stroke="#5a5a5a" stroke-width="0.9"/>
<rect x="276.47" y="216.2" width="8.1" height="2.3" fill="#b8d6f6" stroke="#2c3a52" stroke-width="0.9"/>
<line x1="276.47" y1="217.35" x2="284.57" y2="217.35" stroke="#2c3a52" stroke-width="0.9"/>
<line x1="292.91" y1="214.1" x2="292.91" y2="215.4" stroke="#5a5a5a" stroke-width="0.9"/>
<line x1="290.91" y1="214.1" x2="294.91" y2="214.1" stroke="#5a5a5a" stroke-width="0.9"/>
<line x1="292.91" y1="220.8" x2="292.91" y2="222.1" stroke="#5a5a5a" stroke-width="0.9"/>
<line x1="290.91" y1="222.1" x2="294.91" y2="222.1" stroke="#5a5a5a" stroke-width="0.9"/>
<rect x="288.86" y="215.4" width="8.1" height="5.4" fill="#4a94ee" stroke="#0e2e5e" stroke-width="0.9"/>
<line x1="288.86" y1="218" x2="296.96" y2="218" stroke="#0e2e5e" stroke-width="0.9"/>
<line x1="305.3" y1="214.9" x2="305.3" y2="216.2" stroke="#5a5a5a" stroke-width="0.9"/>
<line x1="303.3" y1="214.9" x2="307.3" y2="214.9" stroke="#5a5a5a" stroke-width="0.9"/>
<line x1="305.3" y1="220.3" x2="305.3" y2="221.6" stroke="#5a5a5a" stroke-width="0.9"/>
<line x1="303.3" y1="221.6" x2="307.3" y2="221.6" stroke="#5a5a5a" stroke-width="0.9"/>
<rect x="301.25" y="216.2" width="8.1" height="4.1" fill="#c8a6ee" stroke="#463462" stroke-width="0.9"/>
<line x1="301.25" y1="218.2" x2="309.35" y2="218.2" stroke="#463462" stroke-width="0.9"/>
<line x1="317.7" y1="217.5" x2="317.7" y2="218.8" stroke="#5a5a5a" stroke-width="0.9"/>
<line x1="315.7" y1="217.5" x2="319.7" y2="217.5" stroke="#5a5a5a" stroke-width="0.9"/>
<line x1="317.7" y1="221.8" x2="317.7" y2="223.1" stroke="#5a5a5a" stroke-width="0.9"/>
<line x1="315.7" y1="223.1" x2="319.7" y2="223.1" stroke="#5a5a5a" stroke-width="0.9"/>
<rect x="313.65" y="218.8" width="8.1" height="3" fill="#7a30f0" stroke="#2c0e6e" stroke-width="0.9"/>
<line x1="313.65" y1="220.3" x2="321.75" y2="220.3" stroke="#2c0e6e" stroke-width="0.9"/>
<line x1="330.09" y1="215.9" x2="330.09" y2="217.2" stroke="#5a5a5a" stroke-width="0.9"/>
<line x1="328.09" y1="215.9" x2="332.09" y2="215.9" stroke="#5a5a5a" stroke-width="0.9"/>
<line x1="330.09" y1="219.7" x2="330.09" y2="221" stroke="#5a5a5a" stroke-width="0.9"/>
<line x1="328.09" y1="221" x2="332.09" y2="221" stroke="#5a5a5a" stroke-width="0.9"/>
<rect x="326.04" y="217.2" width="8.1" height="2.5" fill="#a8a8a8" stroke="#444444" stroke-width="0.9"/>
<line x1="326.04" y1="218.45" x2="334.14" y2="218.45" stroke="#444444" stroke-width="0.9"/>
<line x1="342.48" y1="214.9" x2="342.48" y2="216.2" stroke="#5a5a5a" stroke-width="0.9"/>
<line x1="340.48" y1="214.9" x2="344.48" y2="214.9" stroke="#5a5a5a" stroke-width="0.9"/>
<line x1="342.48" y1="218.8" x2="342.48" y2="220.1" stroke="#5a5a5a" stroke-width="0.9"/>
<line x1="340.48" y1="220.1" x2="344.48" y2="220.1" stroke="#5a5a5a" stroke-width="0.9"/>
<rect x="338.43" y="216.2" width="8.1" height="2.6" fill="#5a5a5a" stroke="#1e1e1e" stroke-width="0.9"/>
<line x1="338.43" y1="217.5" x2="346.53" y2="217.5" stroke="#1e1e1e" stroke-width="0.9"/>
<path d="M212.4 172.3V263.2H348.8" fill="none" stroke="#3a3a3a" stroke-width="1"/>
<line x1="210.6" y1="172.3" x2="212.4" y2="172.3" stroke="#3a3a3a" stroke-width="0.8"/>
<text x="210.5" y="175" class="t">3</text>
<line x1="210.6" y1="187.45" x2="212.4" y2="187.45" stroke="#3a3a3a" stroke-width="0.8"/>
<text x="210.5" y="190.15" class="t">2</text>
<line x1="210.6" y1="202.6" x2="212.4" y2="202.6" stroke="#3a3a3a" stroke-width="0.8"/>
<text x="210.5" y="205.3" class="t">1</text>
<line x1="210.6" y1="217.75" x2="212.4" y2="217.75" stroke="#3a3a3a" stroke-width="0.8"/>
<text x="210.5" y="220.45" class="t">0</text>
<line x1="210.6" y1="232.9" x2="212.4" y2="232.9" stroke="#3a3a3a" stroke-width="0.8"/>
<text x="210.5" y="235.6" class="t">-1</text>
<line x1="210.6" y1="248.05" x2="212.4" y2="248.05" stroke="#3a3a3a" stroke-width="0.8"/>
<text x="210.5" y="250.75" class="t">-2</text>
<line x1="210.6" y1="263.2" x2="212.4" y2="263.2" stroke="#3a3a3a" stroke-width="0.8"/>
<text x="210.5" y="265.9" class="t">-3</text>
<line x1="218.56" y1="263.2" x2="218.56" y2="265" stroke="#3a3a3a" stroke-width="0.8"/>
<line x1="230.95" y1="263.2" x2="230.95" y2="265" stroke="#3a3a3a" stroke-width="0.8"/>
<line x1="243.34" y1="263.2" x2="243.34" y2="265" stroke="#3a3a3a" stroke-width="0.8"/>
<line x1="255.74" y1="263.2" x2="255.74" y2="265" stroke="#3a3a3a" stroke-width="0.8"/>
<line x1="268.13" y1="263.2" x2="268.13" y2="265" stroke="#3a3a3a" stroke-width="0.8"/>
<line x1="280.52" y1="263.2" x2="280.52" y2="265" stroke="#3a3a3a" stroke-width="0.8"/>
<line x1="292.91" y1="263.2" x2="292.91" y2="265" stroke="#3a3a3a" stroke-width="0.8"/>
<line x1="305.3" y1="263.2" x2="305.3" y2="265" stroke="#3a3a3a" stroke-width="0.8"/>
<line x1="317.7" y1="263.2" x2="317.7" y2="265" stroke="#3a3a3a" stroke-width="0.8"/>
<line x1="330.09" y1="263.2" x2="330.09" y2="265" stroke="#3a3a3a" stroke-width="0.8"/>
<line x1="342.48" y1="263.2" x2="342.48" y2="265" stroke="#3a3a3a" stroke-width="0.8"/>
<text x="281.4" y="285.8" class="l">peIF4E</text>
<line x1="376.9" y1="217.75" x2="513.3" y2="217.75" stroke="#d2d2d2" stroke-width="0.9"/>
<line x1="383.35" y1="214.9" x2="383.35" y2="216.2" stroke="#5a5a5a" stroke-width="0.9"/>
<line x1="381.35" y1="214.9" x2="385.35" y2="214.9" stroke="#5a5a5a" stroke-width="0.9"/>
<line x1="383.35" y1="218.6" x2="383.35" y2="219.9" stroke="#5a5a5a" stroke-width="0.9"/>
<line x1="381.35" y1="219.9" x2="385.35" y2="219.9" stroke="#5a5a5a" stroke-width="0.9"/>
<rect x="379.3" y="216.2" width="8.1" height="2.4" fill="#e040ec" stroke="#5e1064" stroke-width="0.9"/>
<line x1="379.3" y1="217.4" x2="387.4" y2="217.4" stroke="#5e1064" stroke-width="0.9"/>
<line x1="395.77" y1="214.6" x2="395.77" y2="215.9" stroke="#5a5a5a" stroke-width="0.9"/>
<line x1="393.77" y1="214.6" x2="397.77" y2="214.6" stroke="#5a5a5a" stroke-width="0.9"/>
<line x1="395.77" y1="219.9" x2="395.77" y2="221.2" stroke="#5a5a5a" stroke-width="0.9"/>
<line x1="393.77" y1="221.2" x2="397.77" y2="221.2" stroke="#5a5a5a" stroke-width="0.9"/>
<rect x="391.72" y="215.9" width="8.1" height="4" fill="#f2a49c" stroke="#602826" stroke-width="0.9"/>
<line x1="391.72" y1="217.9" x2="399.82" y2="217.9" stroke="#602826" stroke-width="0.9"/>
<line x1="408.2" y1="213.5" x2="408.2" y2="215.1" stroke="#5a5a5a" stroke-width="0.9"/>
<line x1="406.2" y1="213.5" x2="410.2" y2="213.5" stroke="#5a5a5a" stroke-width="0.9"/>
<line x1="408.2" y1="219.5" x2="408.2" y2="220.8" stroke="#5a5a5a" stroke-width="0.9"/>
<line x1="406.2" y1="220.8" x2="410.2" y2="220.8" stroke="#5a5a5a" stroke-width="0.9"/>
<rect x="404.15" y="215.1" width="8.1" height="4.4" fill="#ee2e16" stroke="#5c0a04" stroke-width="0.9"/>
<line x1="404.15" y1="217.3" x2="412.25" y2="217.3" stroke="#5c0a04" stroke-width="0.9"/>
<line x1="420.62" y1="213.8" x2="420.62" y2="215.1" stroke="#5a5a5a" stroke-width="0.9"/>
<line x1="418.62" y1="213.8" x2="422.62" y2="213.8" stroke="#5a5a5a" stroke-width="0.9"/>
<line x1="420.62" y1="219.1" x2="420.62" y2="220.4" stroke="#5a5a5a" stroke-width="0.9"/>
<line x1="418.62" y1="220.4" x2="422.62" y2="220.4" stroke="#5a5a5a" stroke-width="0.9"/>
<rect x="416.57" y="215.1" width="8.1" height="4" fill="#c2dcb0" stroke="#38462f" stroke-width="0.9"/>
<line x1="416.57" y1="217.1" x2="424.67" y2="217.1" stroke="#38462f" stroke-width="0.9"/>
<line x1="433.05" y1="213.5" x2="433.05" y2="214.5" stroke="#5a5a5a" stroke-width="0.9"/>
<line x1="431.05" y1="213.5" x2="435.05" y2="213.5" stroke="#5a5a5a" stroke-width="0.9"/>
<line x1="433.05" y1="219.5" x2="433.05" y2="221.3" stroke="#5a5a5a" stroke-width="0.9"/>
<line x1="431.05" y1="221.3" x2="435.05" y2="221.3" stroke="#5a5a5a" stroke-width="0.9"/>
<rect x="429" y="214.5" width="8.1" height="5" fill="#4c9a22" stroke="#163608" stroke-width="0.9"/>
<line x1="429" y1="217" x2="437.1" y2="217" stroke="#163608" stroke-width="0.9"/>
<line x1="445.47" y1="214.1" x2="445.47" y2="215.4" stroke="#5a5a5a" stroke-width="0.9"/>
<line x1="443.47" y1="214.1" x2="447.47" y2="214.1" stroke="#5a5a5a" stroke-width="0.9"/>
<line x1="445.47" y1="219.2" x2="445.47" y2="220.5" stroke="#5a5a5a" stroke-width="0.9"/>
<line x1="443.47" y1="220.5" x2="447.47" y2="220.5" stroke="#5a5a5a" stroke-width="0.9"/>
<rect x="441.42" y="215.4" width="8.1" height="3.8" fill="#b8d6f6" stroke="#2c3a52" stroke-width="0.9"/>
<line x1="441.42" y1="217.3" x2="449.52" y2="217.3" stroke="#2c3a52" stroke-width="0.9"/>
<line x1="457.89" y1="213.8" x2="457.89" y2="215.1" stroke="#5a5a5a" stroke-width="0.9"/>
<line x1="455.89" y1="213.8" x2="459.89" y2="213.8" stroke="#5a5a5a" stroke-width="0.9"/>
<line x1="457.89" y1="219.2" x2="457.89" y2="220.5" stroke="#5a5a5a" stroke-width="0.9"/>
<line x1="455.89" y1="220.5" x2="459.89" y2="220.5" stroke="#5a5a5a" stroke-width="0.9"/>
<rect x="453.84" y="215.1" width="8.1" height="4.1" fill="#4a94ee" stroke="#0e2e5e" stroke-width="0.9"/>
<line x1="453.84" y1="217.1" x2="461.94" y2="217.1" stroke="#0e2e5e" stroke-width="0.9"/>
<line x1="470.32" y1="213.8" x2="470.32" y2="215.1" stroke="#5a5a5a" stroke-width="0.9"/>
<line x1="468.32" y1="213.8" x2="472.32" y2="213.8" stroke="#5a5a5a" stroke-width="0.9"/>
<line x1="470.32" y1="219.7" x2="470.32" y2="220.8" stroke="#5a5a5a" stroke-width="0.9"/>
<line x1="468.32" y1="220.8" x2="472.32" y2="220.8" stroke="#5a5a5a" stroke-width="0.9"/>
<rect x="466.27" y="215.1" width="8.1" height="4.6" fill="#c8a6ee" stroke="#463462" stroke-width="0.9"/>
<line x1="466.27" y1="217.4" x2="474.37" y2="217.4" stroke="#463462" stroke-width="0.9"/>
<line x1="482.74" y1="213.8" x2="482.74" y2="215.1" stroke="#5a5a5a" stroke-width="0.9"/>
<line x1="480.74" y1="213.8" x2="484.74" y2="213.8" stroke="#5a5a5a" stroke-width="0.9"/>
<line x1="482.74" y1="218.8" x2="482.74" y2="220.1" stroke="#5a5a5a" stroke-width="0.9"/>
<line x1="480.74" y1="220.1" x2="484.74" y2="220.1" stroke="#5a5a5a" stroke-width="0.9"/>
<rect x="478.69" y="215.1" width="8.1" height="3.7" fill="#7a30f0" stroke="#2c0e6e" stroke-width="0.9"/>
<line x1="478.69" y1="217" x2="486.79" y2="217" stroke="#2c0e6e" stroke-width="0.9"/>
<line x1="495.17" y1="214.2" x2="495.17" y2="215.4" stroke="#5a5a5a" stroke-width="0.9"/>
<line x1="493.17" y1="214.2" x2="497.17" y2="214.2" stroke="#5a5a5a" stroke-width="0.9"/>
<line x1="495.17" y1="219.7" x2="495.17" y2="221" stroke="#5a5a5a" stroke-width="0.9"/>
<line x1="493.17" y1="221" x2="497.17" y2="221" stroke="#5a5a5a" stroke-width="0.9"/>
<rect x="491.12" y="215.4" width="8.1" height="4.3" fill="#a8a8a8" stroke="#444444" stroke-width="0.9"/>
<line x1="491.12" y1="217.5" x2="499.22" y2="217.5" stroke="#444444" stroke-width="0.9"/>
<line x1="507.59" y1="213.8" x2="507.59" y2="215.1" stroke="#5a5a5a" stroke-width="0.9"/>
<line x1="505.59" y1="213.8" x2="509.59" y2="213.8" stroke="#5a5a5a" stroke-width="0.9"/>
<line x1="507.59" y1="220" x2="507.59" y2="221.3" stroke="#5a5a5a" stroke-width="0.9"/>
<line x1="505.59" y1="221.3" x2="509.59" y2="221.3" stroke="#5a5a5a" stroke-width="0.9"/>
<rect x="503.54" y="215.1" width="8.1" height="4.9" fill="#5a5a5a" stroke="#1e1e1e" stroke-width="0.9"/>
<line x1="503.54" y1="217.5" x2="511.64" y2="217.5" stroke="#1e1e1e" stroke-width="0.9"/>
<path d="M376.9 172.3V263.2H513.3" fill="none" stroke="#3a3a3a" stroke-width="1"/>
<line x1="375.1" y1="172.3" x2="376.9" y2="172.3" stroke="#3a3a3a" stroke-width="0.8"/>
<text x="375" y="175" class="t">3</text>
<line x1="375.1" y1="187.45" x2="376.9" y2="187.45" stroke="#3a3a3a" stroke-width="0.8"/>
<text x="375" y="190.15" class="t">2</text>
<line x1="375.1" y1="202.6" x2="376.9" y2="202.6" stroke="#3a3a3a" stroke-width="0.8"/>
<text x="375" y="205.3" class="t">1</text>
<line x1="375.1" y1="217.75" x2="376.9" y2="217.75" stroke="#3a3a3a" stroke-width="0.8"/>
<text x="375" y="220.45" class="t">0</text>
<line x1="375.1" y1="232.9" x2="376.9" y2="232.9" stroke="#3a3a3a" stroke-width="0.8"/>
<text x="375" y="235.6" class="t">-1</text>
<line x1="375.1" y1="248.05" x2="376.9" y2="248.05" stroke="#3a3a3a" stroke-width="0.8"/>
<text x="375" y="250.75" class="t">-2</text>
<line x1="375.1" y1="263.2" x2="376.9" y2="263.2" stroke="#3a3a3a" stroke-width="0.8"/>
<text x="375" y="265.9" class="t">-3</text>
<line x1="383.35" y1="263.2" x2="383.35" y2="265" stroke="#3a3a3a" stroke-width="0.8"/>
<line x1="395.77" y1="263.2" x2="395.77" y2="265" stroke="#3a3a3a" stroke-width="0.8"/>
<line x1="408.2" y1="263.2" x2="408.2" y2="265" stroke="#3a3a3a" stroke-width="0.8"/>
<line x1="420.62" y1="263.2" x2="420.62" y2="265" stroke="#3a3a3a" stroke-width="0.8"/>
<line x1="433.05" y1="263.2" x2="433.05" y2="265" stroke="#3a3a3a" stroke-width="0.8"/>
<line x1="445.47" y1="263.2" x2="445.47" y2="265" stroke="#3a3a3a" stroke-width="0.8"/>
<line x1="457.89" y1="263.2" x2="457.89" y2="265" stroke="#3a3a3a" stroke-width="0.8"/>
<line x1="470.32" y1="263.2" x2="470.32" y2="265" stroke="#3a3a3a" stroke-width="0.8"/>
<line x1="482.74" y1="263.2" x2="482.74" y2="265" stroke="#3a3a3a" stroke-width="0.8"/>
<line x1="495.17" y1="263.2" x2="495.17" y2="265" stroke="#3a3a3a" stroke-width="0.8"/>
<line x1="507.59" y1="263.2" x2="507.59" y2="265" stroke="#3a3a3a" stroke-width="0.8"/>
<text x="445.5" y="285.8" class="l">pERK</text>
<line x1="49.3" y1="410.8" x2="185.7" y2="410.8" stroke="#d2d2d2" stroke-width="0.9"/>
<line x1="55.74" y1="373.3" x2="55.74" y2="383.2" stroke="#5a5a5a" stroke-width="0.9"/>
<line x1="53.74" y1="373.3" x2="57.74" y2="373.3" stroke="#5a5a5a" stroke-width="0.9"/>
<line x1="55.74" y1="398.9" x2="55.74" y2="407.4" stroke="#5a5a5a" stroke-width="0.9"/>
<line x1="53.74" y1="407.4" x2="57.74" y2="407.4" stroke="#5a5a5a" stroke-width="0.9"/>
<rect x="51.69" y="383.2" width="8.1" height="15.7" fill="#e040ec" stroke="#5e1064" stroke-width="0.9"/>
<line x1="51.69" y1="391.2" x2="59.79" y2="391.2" stroke="#5e1064" stroke-width="0.9"/>
<line x1="68.15" y1="425.3" x2="68.15" y2="425.8" stroke="#5a5a5a" stroke-width="0.9"/>
<line x1="66.15" y1="425.8" x2="70.15" y2="425.8" stroke="#5a5a5a" stroke-width="0.9"/>
<rect x="64.1" y="411.4" width="8.1" height="13.9" fill="#f2a49c" stroke="#602826" stroke-width="0.9"/>
<line x1="64.1" y1="414.1" x2="72.2" y2="414.1" stroke="#602826" stroke-width="0.9"/>
<line x1="80.55" y1="426.6" x2="80.55" y2="428.9" stroke="#5a5a5a" stroke-width="0.9"/>
<line x1="78.55" y1="428.9" x2="82.55" y2="428.9" stroke="#5a5a5a" stroke-width="0.9"/>
<rect x="76.5" y="410.1" width="8.1" height="16.5" fill="#ee2e16" stroke="#5c0a04" stroke-width="0.9"/>
<line x1="76.5" y1="414.5" x2="84.6" y2="414.5" stroke="#5c0a04" stroke-width="0.9"/>
<line x1="92.96" y1="409.1" x2="92.96" y2="410.8" stroke="#5a5a5a" stroke-width="0.9"/>
<line x1="90.96" y1="409.1" x2="94.96" y2="409.1" stroke="#5a5a5a" stroke-width="0.9"/>
<line x1="92.96" y1="414.1" x2="92.96" y2="419.1" stroke="#5a5a5a" stroke-width="0.9"/>
<line x1="90.96" y1="419.1" x2="94.96" y2="419.1" stroke="#5a5a5a" stroke-width="0.9"/>
<rect x="88.91" y="410.8" width="8.1" height="3.3" fill="#c2dcb0" stroke="#38462f" stroke-width="0.9"/>
<line x1="88.91" y1="412.4" x2="97.01" y2="412.4" stroke="#38462f" stroke-width="0.9"/>
<line x1="105.37" y1="374.7" x2="105.37" y2="385.2" stroke="#5a5a5a" stroke-width="0.9"/>
<line x1="103.37" y1="374.7" x2="107.37" y2="374.7" stroke="#5a5a5a" stroke-width="0.9"/>
<line x1="105.37" y1="398.6" x2="105.37" y2="408.5" stroke="#5a5a5a" stroke-width="0.9"/>
<line x1="103.37" y1="408.5" x2="107.37" y2="408.5" stroke="#5a5a5a" stroke-width="0.9"/>
<rect x="101.32" y="385.2" width="8.1" height="13.4" fill="#4c9a22" stroke="#163608" stroke-width="0.9"/>
<line x1="101.32" y1="391.6" x2="109.42" y2="391.6" stroke="#163608" stroke-width="0.9"/>
<line x1="117.78" y1="408.5" x2="117.78" y2="410.4" stroke="#5a5a5a" stroke-width="0.9"/>
<line x1="115.78" y1="408.5" x2="119.78" y2="408.5" stroke="#5a5a5a" stroke-width="0.9"/>
<line x1="117.78" y1="415.5" x2="117.78" y2="423.2" stroke="#5a5a5a" stroke-width="0.9"/>
<line x1="115.78" y1="423.2" x2="119.78" y2="423.2" stroke="#5a5a5a" stroke-width="0.9"/>
<rect x="113.73" y="410.4" width="8.1" height="5.1" fill="#b8d6f6" stroke="#2c3a52" stroke-width="0.9"/>
<line x1="113.73" y1="413" x2="121.83" y2="413" stroke="#2c3a52" stroke-width="0.9"/>
<line x1="130.18" y1="376.1" x2="130.18" y2="384.2" stroke="#5a5a5a" stroke-width="0.9"/>
<line x1="128.18" y1="376.1" x2="132.18" y2="376.1" stroke="#5a5a5a" stroke-width="0.9"/>
<line x1="130.18" y1="401.9" x2="130.18" y2="410.1" stroke="#5a5a5a" stroke-width="0.9"/>
<line x1="128.18" y1="410.1" x2="132.18" y2="410.1" stroke="#5a5a5a" stroke-width="0.9"/>
<rect x="126.13" y="384.2" width="8.1" height="17.7" fill="#4a94ee" stroke="#0e2e5e" stroke-width="0.9"/>
<line x1="126.13" y1="392.4" x2="134.23" y2="392.4" stroke="#0e2e5e" stroke-width="0.9"/>
<line x1="142.59" y1="404.2" x2="142.59" y2="409.3" stroke="#5a5a5a" stroke-width="0.9"/>
<line x1="140.59" y1="404.2" x2="144.59" y2="404.2" stroke="#5a5a5a" stroke-width="0.9"/>
<line x1="142.59" y1="417.8" x2="142.59" y2="423.2" stroke="#5a5a5a" stroke-width="0.9"/>
<line x1="140.59" y1="423.2" x2="144.59" y2="423.2" stroke="#5a5a5a" stroke-width="0.9"/>
<rect x="138.54" y="409.3" width="8.1" height="8.5" fill="#c8a6ee" stroke="#463462" stroke-width="0.9"/>
<line x1="138.54" y1="414.5" x2="146.64" y2="414.5" stroke="#463462" stroke-width="0.9"/>
<line x1="155" y1="375.3" x2="155" y2="385" stroke="#5a5a5a" stroke-width="0.9"/>
<line x1="153" y1="375.3" x2="157" y2="375.3" stroke="#5a5a5a" stroke-width="0.9"/>
<line x1="155" y1="404.2" x2="155" y2="411.2" stroke="#5a5a5a" stroke-width="0.9"/>
<line x1="153" y1="411.2" x2="157" y2="411.2" stroke="#5a5a5a" stroke-width="0.9"/>
<rect x="150.95" y="385" width="8.1" height="19.2" fill="#7a30f0" stroke="#2c0e6e" stroke-width="0.9"/>
<line x1="150.95" y1="395.5" x2="159.05" y2="395.5" stroke="#2c0e6e" stroke-width="0.9"/>
<line x1="167.4" y1="409.8" x2="167.4" y2="410.7" stroke="#5a5a5a" stroke-width="0.9"/>
<line x1="165.4" y1="409.8" x2="169.4" y2="409.8" stroke="#5a5a5a" stroke-width="0.9"/>
<line x1="167.4" y1="413.5" x2="167.4" y2="416.2" stroke="#5a5a5a" stroke-width="0.9"/>
<line x1="165.4" y1="416.2" x2="169.4" y2="416.2" stroke="#5a5a5a" stroke-width="0.9"/>
<rect x="163.35" y="410.7" width="8.1" height="2.8" fill="#a8a8a8" stroke="#444444" stroke-width="0.9"/>
<line x1="163.35" y1="412" x2="171.45" y2="412" stroke="#444444" stroke-width="0.9"/>
<line x1="179.81" y1="375.3" x2="179.81" y2="387.3" stroke="#5a5a5a" stroke-width="0.9"/>
<line x1="177.81" y1="375.3" x2="181.81" y2="375.3" stroke="#5a5a5a" stroke-width="0.9"/>
<line x1="179.81" y1="404.2" x2="179.81" y2="408.8" stroke="#5a5a5a" stroke-width="0.9"/>
<line x1="177.81" y1="408.8" x2="181.81" y2="408.8" stroke="#5a5a5a" stroke-width="0.9"/>
<rect x="175.76" y="387.3" width="8.1" height="16.9" fill="#5a5a5a" stroke="#1e1e1e" stroke-width="0.9"/>
<line x1="175.76" y1="395.3" x2="183.86" y2="395.3" stroke="#1e1e1e" stroke-width="0.9"/>
<path d="M49.3 365.3V456.3H185.7" fill="none" stroke="#3a3a3a" stroke-width="1"/>
<line x1="47.5" y1="365.3" x2="49.3" y2="365.3" stroke="#3a3a3a" stroke-width="0.8"/>
<text x="47.4" y="368" class="t">3</text>
<line x1="47.5" y1="380.47" x2="49.3" y2="380.47" stroke="#3a3a3a" stroke-width="0.8"/>
<text x="47.4" y="383.17" class="t">2</text>
<line x1="47.5" y1="395.63" x2="49.3" y2="395.63" stroke="#3a3a3a" stroke-width="0.8"/>
<text x="47.4" y="398.33" class="t">1</text>
<line x1="47.5" y1="410.8" x2="49.3" y2="410.8" stroke="#3a3a3a" stroke-width="0.8"/>
<text x="47.4" y="413.5" class="t">0</text>
<line x1="47.5" y1="425.97" x2="49.3" y2="425.97" stroke="#3a3a3a" stroke-width="0.8"/>
<text x="47.4" y="428.67" class="t">-1</text>
<line x1="47.5" y1="441.13" x2="49.3" y2="441.13" stroke="#3a3a3a" stroke-width="0.8"/>
<text x="47.4" y="443.83" class="t">-2</text>
<line x1="47.5" y1="456.3" x2="49.3" y2="456.3" stroke="#3a3a3a" stroke-width="0.8"/>
<text x="47.4" y="459" class="t">-3</text>
<line x1="55.74" y1="456.3" x2="55.74" y2="458.1" stroke="#3a3a3a" stroke-width="0.8"/>
<line x1="68.15" y1="456.3" x2="68.15" y2="458.1" stroke="#3a3a3a" stroke-width="0.8"/>
<line x1="80.55" y1="456.3" x2="80.55" y2="458.1" stroke="#3a3a3a" stroke-width="0.8"/>
<line x1="92.96" y1="456.3" x2="92.96" y2="458.1" stroke="#3a3a3a" stroke-width="0.8"/>
<line x1="105.37" y1="456.3" x2="105.37" y2="458.1" stroke="#3a3a3a" stroke-width="0.8"/>
<line x1="117.78" y1="456.3" x2="117.78" y2="458.1" stroke="#3a3a3a" stroke-width="0.8"/>
<line x1="130.18" y1="456.3" x2="130.18" y2="458.1" stroke="#3a3a3a" stroke-width="0.8"/>
<line x1="142.59" y1="456.3" x2="142.59" y2="458.1" stroke="#3a3a3a" stroke-width="0.8"/>
<line x1="155" y1="456.3" x2="155" y2="458.1" stroke="#3a3a3a" stroke-width="0.8"/>
<line x1="167.4" y1="456.3" x2="167.4" y2="458.1" stroke="#3a3a3a" stroke-width="0.8"/>
<line x1="179.81" y1="456.3" x2="179.81" y2="458.1" stroke="#3a3a3a" stroke-width="0.8"/>
<text x="116" y="478.3" class="l">pSTAT5</text>
<line x1="214.2" y1="410.8" x2="350.6" y2="410.8" stroke="#d2d2d2" stroke-width="0.9"/>
<line x1="220.35" y1="400.1" x2="220.35" y2="404.1" stroke="#5a5a5a" stroke-width="0.9"/>
<line x1="218.35" y1="400.1" x2="222.35" y2="400.1" stroke="#5a5a5a" stroke-width="0.9"/>
<line x1="220.35" y1="409.5" x2="220.35" y2="410" stroke="#5a5a5a" stroke-width="0.9"/>
<line x1="218.35" y1="410" x2="222.35" y2="410" stroke="#5a5a5a" stroke-width="0.9"/>
<rect x="216.3" y="404.1" width="8.1" height="5.4" fill="#e040ec" stroke="#5e1064" stroke-width="0.9"/>
<line x1="216.3" y1="406.2" x2="224.4" y2="406.2" stroke="#5e1064" stroke-width="0.9"/>
<line x1="232.78" y1="413.6" x2="232.78" y2="415.3" stroke="#5a5a5a" stroke-width="0.9"/>
<line x1="230.78" y1="415.3" x2="234.78" y2="415.3" stroke="#5a5a5a" stroke-width="0.9"/>
<rect x="228.73" y="408.2" width="8.1" height="5.4" fill="#f2a49c" stroke="#602826" stroke-width="0.9"/>
<line x1="228.73" y1="410.5" x2="236.83" y2="410.5" stroke="#602826" stroke-width="0.9"/>
<line x1="245.22" y1="405.5" x2="245.22" y2="407.8" stroke="#5a5a5a" stroke-width="0.9"/>
<line x1="243.22" y1="405.5" x2="247.22" y2="405.5" stroke="#5a5a5a" stroke-width="0.9"/>
<line x1="245.22" y1="412.2" x2="245.22" y2="414.9" stroke="#5a5a5a" stroke-width="0.9"/>
<line x1="243.22" y1="414.9" x2="247.22" y2="414.9" stroke="#5a5a5a" stroke-width="0.9"/>
<rect x="241.17" y="407.8" width="8.1" height="4.4" fill="#ee2e16" stroke="#5c0a04" stroke-width="0.9"/>
<line x1="241.17" y1="410" x2="249.27" y2="410" stroke="#5c0a04" stroke-width="0.9"/>
<line x1="257.65" y1="406.4" x2="257.65" y2="408.2" stroke="#5a5a5a" stroke-width="0.9"/>
<line x1="255.65" y1="406.4" x2="259.65" y2="406.4" stroke="#5a5a5a" stroke-width="0.9"/>
<line x1="257.65" y1="413.6" x2="257.65" y2="416.9" stroke="#5a5a5a" stroke-width="0.9"/>
<line x1="255.65" y1="416.9" x2="259.65" y2="416.9" stroke="#5a5a5a" stroke-width="0.9"/>
<rect x="253.6" y="408.2" width="8.1" height="5.4" fill="#c2dcb0" stroke="#38462f" stroke-width="0.9"/>
<line x1="253.6" y1="411" x2="261.7" y2="411" stroke="#38462f" stroke-width="0.9"/>
<line x1="270.09" y1="400.1" x2="270.09" y2="404.1" stroke="#5a5a5a" stroke-width="0.9"/>
<line x1="268.09" y1="400.1" x2="272.09" y2="400.1" stroke="#5a5a5a" stroke-width="0.9"/>
<line x1="270.09" y1="411.5" x2="270.09" y2="414.9" stroke="#5a5a5a" stroke-width="0.9"/>
<line x1="268.09" y1="414.9" x2="272.09" y2="414.9" stroke="#5a5a5a" stroke-width="0.9"/>
<rect x="266.04" y="404.1" width="8.1" height="7.4" fill="#4c9a22" stroke="#163608" stroke-width="0.9"/>
<line x1="266.04" y1="407.5" x2="274.14" y2="407.5" stroke="#163608" stroke-width="0.9"/>
<line x1="282.52" y1="406.2" x2="282.52" y2="409.5" stroke="#5a5a5a" stroke-width="0.9"/>
<line x1="280.52" y1="406.2" x2="284.52" y2="406.2" stroke="#5a5a5a" stroke-width="0.9"/>
<line x1="282.52" y1="415.4" x2="282.52" y2="421.5" stroke="#5a5a5a" stroke-width="0.9"/>
<line x1="280.52" y1="421.5" x2="284.52" y2="421.5" stroke="#5a5a5a" stroke-width="0.9"/>
<rect x="278.47" y="409.5" width="8.1" height="5.9" fill="#b8d6f6" stroke="#2c3a52" stroke-width="0.9"/>
<line x1="278.47" y1="412.3" x2="286.57" y2="412.3" stroke="#2c3a52" stroke-width="0.9"/>
<line x1="294.95" y1="404.6" x2="294.95" y2="409.2" stroke="#5a5a5a" stroke-width="0.9"/>
<line x1="292.95" y1="404.6" x2="296.95" y2="404.6" stroke="#5a5a5a" stroke-width="0.9"/>
<line x1="294.95" y1="415.4" x2="294.95" y2="419.2" stroke="#5a5a5a" stroke-width="0.9"/>
<line x1="292.95" y1="419.2" x2="296.95" y2="419.2" stroke="#5a5a5a" stroke-width="0.9"/>
<rect x="290.9" y="409.2" width="8.1" height="6.2" fill="#4a94ee" stroke="#0e2e5e" stroke-width="0.9"/>
<line x1="290.9" y1="412" x2="299" y2="412" stroke="#0e2e5e" stroke-width="0.9"/>
<line x1="307.39" y1="404.6" x2="307.39" y2="408.5" stroke="#5a5a5a" stroke-width="0.9"/>
<line x1="305.39" y1="404.6" x2="309.39" y2="404.6" stroke="#5a5a5a" stroke-width="0.9"/>
<line x1="307.39" y1="412.3" x2="307.39" y2="420.8" stroke="#5a5a5a" stroke-width="0.9"/>
<line x1="305.39" y1="420.8" x2="309.39" y2="420.8" stroke="#5a5a5a" stroke-width="0.9"/>
<rect x="303.34" y="408.5" width="8.1" height="3.8" fill="#c8a6ee" stroke="#463462" stroke-width="0.9"/>
<line x1="303.34" y1="410.5" x2="311.44" y2="410.5" stroke="#463462" stroke-width="0.9"/>
<line x1="319.82" y1="405.7" x2="319.82" y2="408.9" stroke="#5a5a5a" stroke-width="0.9"/>
<line x1="317.82" y1="405.7" x2="321.82" y2="405.7" stroke="#5a5a5a" stroke-width="0.9"/>
<line x1="319.82" y1="415.4" x2="319.82" y2="421.5" stroke="#5a5a5a" stroke-width="0.9"/>
<line x1="317.82" y1="421.5" x2="321.82" y2="421.5" stroke="#5a5a5a" stroke-width="0.9"/>
<rect x="315.77" y="408.9" width="8.1" height="6.5" fill="#7a30f0" stroke="#2c0e6e" stroke-width="0.9"/>
<line x1="315.77" y1="410" x2="323.87" y2="410" stroke="#2c0e6e" stroke-width="0.9"/>
<line x1="332.26" y1="413.8" x2="332.26" y2="416.2" stroke="#5a5a5a" stroke-width="0.9"/>
<line x1="330.26" y1="416.2" x2="334.26" y2="416.2" stroke="#5a5a5a" stroke-width="0.9"/>
<rect x="328.21" y="408.5" width="8.1" height="5.3" fill="#a8a8a8" stroke="#444444" stroke-width="0.9"/>
<line x1="328.21" y1="411" x2="336.31" y2="411" stroke="#444444" stroke-width="0.9"/>
<line x1="344.69" y1="403.1" x2="344.69" y2="405.4" stroke="#5a5a5a" stroke-width="0.9"/>
<line x1="342.69" y1="403.1" x2="346.69" y2="403.1" stroke="#5a5a5a" stroke-width="0.9"/>
<rect x="340.64" y="405.4" width="8.1" height="5.4" fill="#5a5a5a" stroke="#1e1e1e" stroke-width="0.9"/>
<line x1="340.64" y1="408.2" x2="348.74" y2="408.2" stroke="#1e1e1e" stroke-width="0.9"/>
<path d="M214.2 365.3V456.3H350.6" fill="none" stroke="#3a3a3a" stroke-width="1"/>
<line x1="212.4" y1="365.3" x2="214.2" y2="365.3" stroke="#3a3a3a" stroke-width="0.8"/>
<text x="212.3" y="368" class="t">3</text>
<line x1="212.4" y1="380.47" x2="214.2" y2="380.47" stroke="#3a3a3a" stroke-width="0.8"/>
<text x="212.3" y="383.17" class="t">2</text>
<line x1="212.4" y1="395.63" x2="214.2" y2="395.63" stroke="#3a3a3a" stroke-width="0.8"/>
<text x="212.3" y="398.33" class="t">1</text>
<line x1="212.4" y1="410.8" x2="214.2" y2="410.8" stroke="#3a3a3a" stroke-width="0.8"/>
<text x="212.3" y="413.5" class="t">0</text>
<line x1="212.4" y1="425.97" x2="214.2" y2="425.97" stroke="#3a3a3a" stroke-width="0.8"/>
<text x="212.3" y="428.67" class="t">-1</text>
<line x1="212.4" y1="441.13" x2="214.2" y2="441.13" stroke="#3a3a3a" stroke-width="0.8"/>
<text x="212.3" y="443.83" class="t">-2</text>
<line x1="212.4" y1="456.3" x2="214.2" y2="456.3" stroke="#3a3a3a" stroke-width="0.8"/>
<text x="212.3" y="459" class="t">-3</text>
<line x1="220.35" y1="456.3" x2="220.35" y2="458.1" stroke="#3a3a3a" stroke-width="0.8"/>
<line x1="232.78" y1="456.3" x2="232.78" y2="458.1" stroke="#3a3a3a" stroke-width="0.8"/>
<line x1="245.22" y1="456.3" x2="245.22" y2="458.1" stroke="#3a3a3a" stroke-width="0.8"/>
<line x1="257.65" y1="456.3" x2="257.65" y2="458.1" stroke="#3a3a3a" stroke-width="0.8"/>
<line x1="270.09" y1="456.3" x2="270.09" y2="458.1" stroke="#3a3a3a" stroke-width="0.8"/>
<line x1="282.52" y1="456.3" x2="282.52" y2="458.1" stroke="#3a3a3a" stroke-width="0.8"/>
<line x1="294.95" y1="456.3" x2="294.95" y2="458.1" stroke="#3a3a3a" stroke-width="0.8"/>
<line x1="307.39" y1="456.3" x2="307.39" y2="458.1" stroke="#3a3a3a" stroke-width="0.8"/>
<line x1="319.82" y1="456.3" x2="319.82" y2="458.1" stroke="#3a3a3a" stroke-width="0.8"/>
<line x1="332.26" y1="456.3" x2="332.26" y2="458.1" stroke="#3a3a3a" stroke-width="0.8"/>
<line x1="344.69" y1="456.3" x2="344.69" y2="458.1" stroke="#3a3a3a" stroke-width="0.8"/>
<text x="282.4" y="478.3" class="l">pAkt</text>
<line x1="378.9" y1="410.8" x2="515.3" y2="410.8" stroke="#d2d2d2" stroke-width="0.9"/>
<line x1="385.38" y1="372.2" x2="385.38" y2="380.4" stroke="#5a5a5a" stroke-width="0.9"/>
<line x1="383.38" y1="372.2" x2="387.38" y2="372.2" stroke="#5a5a5a" stroke-width="0.9"/>
<line x1="385.38" y1="401.5" x2="385.38" y2="410.5" stroke="#5a5a5a" stroke-width="0.9"/>
<line x1="383.38" y1="410.5" x2="387.38" y2="410.5" stroke="#5a5a5a" stroke-width="0.9"/>
<rect x="381.33" y="380.4" width="8.1" height="21.1" fill="#e040ec" stroke="#5e1064" stroke-width="0.9"/>
<line x1="381.33" y1="395" x2="389.43" y2="395" stroke="#5e1064" stroke-width="0.9"/>
<line x1="397.77" y1="405.6" x2="397.77" y2="409.2" stroke="#5a5a5a" stroke-width="0.9"/>
<line x1="395.77" y1="405.6" x2="399.77" y2="405.6" stroke="#5a5a5a" stroke-width="0.9"/>
<rect x="393.72" y="409.2" width="8.1" height="18.1" fill="#f2a49c" stroke="#602826" stroke-width="0.9"/>
<line x1="393.72" y1="412.1" x2="401.82" y2="412.1" stroke="#602826" stroke-width="0.9"/>
<line x1="410.17" y1="409.7" x2="410.17" y2="412.1" stroke="#5a5a5a" stroke-width="0.9"/>
<line x1="408.17" y1="409.7" x2="412.17" y2="409.7" stroke="#5a5a5a" stroke-width="0.9"/>
<line x1="410.17" y1="438.7" x2="410.17" y2="441.4" stroke="#5a5a5a" stroke-width="0.9"/>
<line x1="408.17" y1="441.4" x2="412.17" y2="441.4" stroke="#5a5a5a" stroke-width="0.9"/>
<rect x="406.12" y="412.1" width="8.1" height="26.6" fill="#ee2e16" stroke="#5c0a04" stroke-width="0.9"/>
<line x1="406.12" y1="420.3" x2="414.22" y2="420.3" stroke="#5c0a04" stroke-width="0.9"/>
<line x1="422.56" y1="398.3" x2="422.56" y2="411.3" stroke="#5a5a5a" stroke-width="0.9"/>
<line x1="420.56" y1="398.3" x2="424.56" y2="398.3" stroke="#5a5a5a" stroke-width="0.9"/>
<line x1="422.56" y1="430.5" x2="422.56" y2="446.8" stroke="#5a5a5a" stroke-width="0.9"/>
<line x1="420.56" y1="446.8" x2="424.56" y2="446.8" stroke="#5a5a5a" stroke-width="0.9"/>
<rect x="418.51" y="411.3" width="8.1" height="19.2" fill="#c2dcb0" stroke="#38462f" stroke-width="0.9"/>
<line x1="418.51" y1="414.6" x2="426.62" y2="414.6" stroke="#38462f" stroke-width="0.9"/>
<line x1="434.96" y1="381.2" x2="434.96" y2="399.1" stroke="#5a5a5a" stroke-width="0.9"/>
<line x1="432.96" y1="381.2" x2="436.96" y2="381.2" stroke="#5a5a5a" stroke-width="0.9"/>
<line x1="434.96" y1="412.1" x2="434.96" y2="423.5" stroke="#5a5a5a" stroke-width="0.9"/>
<line x1="432.96" y1="423.5" x2="436.96" y2="423.5" stroke="#5a5a5a" stroke-width="0.9"/>
<rect x="430.91" y="399.1" width="8.1" height="13" fill="#4c9a22" stroke="#163608" stroke-width="0.9"/>
<line x1="430.91" y1="405.3" x2="439.01" y2="405.3" stroke="#163608" stroke-width="0.9"/>
<line x1="447.36" y1="432.4" x2="447.36" y2="445.4" stroke="#5a5a5a" stroke-width="0.9"/>
<line x1="445.36" y1="445.4" x2="449.36" y2="445.4" stroke="#5a5a5a" stroke-width="0.9"/>
<rect x="443.31" y="410.7" width="8.1" height="21.7" fill="#b8d6f6" stroke="#2c3a52" stroke-width="0.9"/>
<line x1="443.31" y1="412.8" x2="451.41" y2="412.8" stroke="#2c3a52" stroke-width="0.9"/>
<line x1="459.75" y1="375.1" x2="459.75" y2="408" stroke="#5a5a5a" stroke-width="0.9"/>
<line x1="457.75" y1="375.1" x2="461.75" y2="375.1" stroke="#5a5a5a" stroke-width="0.9"/>
<line x1="459.75" y1="422.6" x2="459.75" y2="442.4" stroke="#5a5a5a" stroke-width="0.9"/>
<line x1="457.75" y1="442.4" x2="461.75" y2="442.4" stroke="#5a5a5a" stroke-width="0.9"/>
<rect x="455.7" y="408" width="8.1" height="14.6" fill="#4a94ee" stroke="#0e2e5e" stroke-width="0.9"/>
<line x1="455.7" y1="411.2" x2="463.8" y2="411.2" stroke="#0e2e5e" stroke-width="0.9"/>
<line x1="472.14" y1="408.5" x2="472.14" y2="411.2" stroke="#5a5a5a" stroke-width="0.9"/>
<line x1="470.14" y1="408.5" x2="474.14" y2="408.5" stroke="#5a5a5a" stroke-width="0.9"/>
<line x1="472.14" y1="433.2" x2="472.14" y2="448.1" stroke="#5a5a5a" stroke-width="0.9"/>
<line x1="470.14" y1="448.1" x2="474.14" y2="448.1" stroke="#5a5a5a" stroke-width="0.9"/>
<rect x="468.09" y="411.2" width="8.1" height="22" fill="#c8a6ee" stroke="#463462" stroke-width="0.9"/>
<line x1="468.09" y1="415.3" x2="476.19" y2="415.3" stroke="#463462" stroke-width="0.9"/>
<line x1="484.54" y1="383.3" x2="484.54" y2="410.7" stroke="#5a5a5a" stroke-width="0.9"/>
<line x1="482.54" y1="383.3" x2="486.54" y2="383.3" stroke="#5a5a5a" stroke-width="0.9"/>
<line x1="484.54" y1="434" x2="484.54" y2="449" stroke="#5a5a5a" stroke-width="0.9"/>
<line x1="482.54" y1="449" x2="486.54" y2="449" stroke="#5a5a5a" stroke-width="0.9"/>
<rect x="480.49" y="410.7" width="8.1" height="23.3" fill="#7a30f0" stroke="#2c0e6e" stroke-width="0.9"/>
<line x1="480.49" y1="411.5" x2="488.59" y2="411.5" stroke="#2c0e6e" stroke-width="0.9"/>
<line x1="496.94" y1="409" x2="496.94" y2="410.1" stroke="#5a5a5a" stroke-width="0.9"/>
<line x1="494.94" y1="409" x2="498.94" y2="409" stroke="#5a5a5a" stroke-width="0.9"/>
<line x1="496.94" y1="424.7" x2="496.94" y2="431.5" stroke="#5a5a5a" stroke-width="0.9"/>
<line x1="494.94" y1="431.5" x2="498.94" y2="431.5" stroke="#5a5a5a" stroke-width="0.9"/>
<rect x="492.88" y="410.1" width="8.1" height="14.6" fill="#a8a8a8" stroke="#444444" stroke-width="0.9"/>
<line x1="492.88" y1="412.8" x2="500.99" y2="412.8" stroke="#444444" stroke-width="0.9"/>
<line x1="509.33" y1="394.5" x2="509.33" y2="410.4" stroke="#5a5a5a" stroke-width="0.9"/>
<line x1="507.33" y1="394.5" x2="511.33" y2="394.5" stroke="#5a5a5a" stroke-width="0.9"/>
<line x1="509.33" y1="422.6" x2="509.33" y2="431.9" stroke="#5a5a5a" stroke-width="0.9"/>
<line x1="507.33" y1="431.9" x2="511.33" y2="431.9" stroke="#5a5a5a" stroke-width="0.9"/>
<rect x="505.28" y="410.4" width="8.1" height="12.2" fill="#5a5a5a" stroke="#1e1e1e" stroke-width="0.9"/>
<line x1="505.28" y1="415.3" x2="513.38" y2="415.3" stroke="#1e1e1e" stroke-width="0.9"/>
<path d="M378.9 365.3V456.3H515.3" fill="none" stroke="#3a3a3a" stroke-width="1"/>
<line x1="377.1" y1="365.3" x2="378.9" y2="365.3" stroke="#3a3a3a" stroke-width="0.8"/>
<text x="377" y="368" class="t">3</text>
<line x1="377.1" y1="380.47" x2="378.9" y2="380.47" stroke="#3a3a3a" stroke-width="0.8"/>
<text x="377" y="383.17" class="t">2</text>
<line x1="377.1" y1="395.63" x2="378.9" y2="395.63" stroke="#3a3a3a" stroke-width="0.8"/>
<text x="377" y="398.33" class="t">1</text>
<line x1="377.1" y1="410.8" x2="378.9" y2="410.8" stroke="#3a3a3a" stroke-width="0.8"/>
<text x="377" y="413.5" class="t">0</text>
<line x1="377.1" y1="425.97" x2="378.9" y2="425.97" stroke="#3a3a3a" stroke-width="0.8"/>
<text x="377" y="428.67" class="t">-1</text>
<line x1="377.1" y1="441.13" x2="378.9" y2="441.13" stroke="#3a3a3a" stroke-width="0.8"/>
<text x="377" y="443.83" class="t">-2</text>
<line x1="377.1" y1="456.3" x2="378.9" y2="456.3" stroke="#3a3a3a" stroke-width="0.8"/>
<text x="377" y="459" class="t">-3</text>
<line x1="385.38" y1="456.3" x2="385.38" y2="458.1" stroke="#3a3a3a" stroke-width="0.8"/>
<line x1="397.77" y1="456.3" x2="397.77" y2="458.1" stroke="#3a3a3a" stroke-width="0.8"/>
<line x1="410.17" y1="456.3" x2="410.17" y2="458.1" stroke="#3a3a3a" stroke-width="0.8"/>
<line x1="422.56" y1="456.3" x2="422.56" y2="458.1" stroke="#3a3a3a" stroke-width="0.8"/>
<line x1="434.96" y1="456.3" x2="434.96" y2="458.1" stroke="#3a3a3a" stroke-width="0.8"/>
<line x1="447.36" y1="456.3" x2="447.36" y2="458.1" stroke="#3a3a3a" stroke-width="0.8"/>
<line x1="459.75" y1="456.3" x2="459.75" y2="458.1" stroke="#3a3a3a" stroke-width="0.8"/>
<line x1="472.14" y1="456.3" x2="472.14" y2="458.1" stroke="#3a3a3a" stroke-width="0.8"/>
<line x1="484.54" y1="456.3" x2="484.54" y2="458.1" stroke="#3a3a3a" stroke-width="0.8"/>
<line x1="496.94" y1="456.3" x2="496.94" y2="458.1" stroke="#3a3a3a" stroke-width="0.8"/>
<line x1="509.33" y1="456.3" x2="509.33" y2="458.1" stroke="#3a3a3a" stroke-width="0.8"/>
<text x="448.1" y="478.3" class="l">pS6</text>
<line x1="49.4" y1="541.8" x2="185.8" y2="541.8" stroke="#d2d2d2" stroke-width="0.9"/>
<line x1="55.74" y1="519.5" x2="55.74" y2="529.3" stroke="#5a5a5a" stroke-width="0.9"/>
<line x1="53.74" y1="519.5" x2="57.74" y2="519.5" stroke="#5a5a5a" stroke-width="0.9"/>
<line x1="55.74" y1="539.7" x2="55.74" y2="541.5" stroke="#5a5a5a" stroke-width="0.9"/>
<line x1="53.74" y1="541.5" x2="57.74" y2="541.5" stroke="#5a5a5a" stroke-width="0.9"/>
<rect x="51.69" y="529.3" width="8.1" height="10.4" fill="#e040ec" stroke="#5e1064" stroke-width="0.9"/>
<line x1="51.69" y1="536.1" x2="59.79" y2="536.1" stroke="#5e1064" stroke-width="0.9"/>
<line x1="68.15" y1="537.7" x2="68.15" y2="540.1" stroke="#5a5a5a" stroke-width="0.9"/>
<line x1="66.15" y1="537.7" x2="70.15" y2="537.7" stroke="#5a5a5a" stroke-width="0.9"/>
<line x1="68.15" y1="547.4" x2="68.15" y2="551.4" stroke="#5a5a5a" stroke-width="0.9"/>
<line x1="66.15" y1="551.4" x2="70.15" y2="551.4" stroke="#5a5a5a" stroke-width="0.9"/>
<rect x="64.1" y="540.1" width="8.1" height="7.3" fill="#f2a49c" stroke="#602826" stroke-width="0.9"/>
<line x1="64.1" y1="544.1" x2="72.2" y2="544.1" stroke="#602826" stroke-width="0.9"/>
<line x1="80.55" y1="539.3" x2="80.55" y2="541.5" stroke="#5a5a5a" stroke-width="0.9"/>
<line x1="78.55" y1="539.3" x2="82.55" y2="539.3" stroke="#5a5a5a" stroke-width="0.9"/>
<line x1="80.55" y1="546.8" x2="80.55" y2="555.2" stroke="#5a5a5a" stroke-width="0.9"/>
<line x1="78.55" y1="555.2" x2="82.55" y2="555.2" stroke="#5a5a5a" stroke-width="0.9"/>
<rect x="76.5" y="541.5" width="8.1" height="5.3" fill="#ee2e16" stroke="#5c0a04" stroke-width="0.9"/>
<line x1="76.5" y1="543.7" x2="84.6" y2="543.7" stroke="#5c0a04" stroke-width="0.9"/>
<line x1="92.96" y1="540.4" x2="92.96" y2="542.8" stroke="#5a5a5a" stroke-width="0.9"/>
<line x1="90.96" y1="540.4" x2="94.96" y2="540.4" stroke="#5a5a5a" stroke-width="0.9"/>
<line x1="92.96" y1="549.5" x2="92.96" y2="552.5" stroke="#5a5a5a" stroke-width="0.9"/>
<line x1="90.96" y1="552.5" x2="94.96" y2="552.5" stroke="#5a5a5a" stroke-width="0.9"/>
<rect x="88.91" y="542.8" width="8.1" height="6.7" fill="#c2dcb0" stroke="#38462f" stroke-width="0.9"/>
<line x1="88.91" y1="546.4" x2="97.01" y2="546.4" stroke="#38462f" stroke-width="0.9"/>
<line x1="105.37" y1="519.5" x2="105.37" y2="528.9" stroke="#5a5a5a" stroke-width="0.9"/>
<line x1="103.37" y1="519.5" x2="107.37" y2="519.5" stroke="#5a5a5a" stroke-width="0.9"/>
<line x1="105.37" y1="548.5" x2="105.37" y2="555.2" stroke="#5a5a5a" stroke-width="0.9"/>
<line x1="103.37" y1="555.2" x2="107.37" y2="555.2" stroke="#5a5a5a" stroke-width="0.9"/>
<rect x="101.32" y="528.9" width="8.1" height="19.6" fill="#4c9a22" stroke="#163608" stroke-width="0.9"/>
<line x1="101.32" y1="543.3" x2="109.42" y2="543.3" stroke="#163608" stroke-width="0.9"/>
<line x1="117.78" y1="540.3" x2="117.78" y2="541.8" stroke="#5a5a5a" stroke-width="0.9"/>
<line x1="115.78" y1="540.3" x2="119.78" y2="540.3" stroke="#5a5a5a" stroke-width="0.9"/>
<line x1="117.78" y1="552.6" x2="117.78" y2="559.2" stroke="#5a5a5a" stroke-width="0.9"/>
<line x1="115.78" y1="559.2" x2="119.78" y2="559.2" stroke="#5a5a5a" stroke-width="0.9"/>
<rect x="113.73" y="541.8" width="8.1" height="10.8" fill="#b8d6f6" stroke="#2c3a52" stroke-width="0.9"/>
<line x1="113.73" y1="547.4" x2="121.83" y2="547.4" stroke="#2c3a52" stroke-width="0.9"/>
<line x1="130.18" y1="520.3" x2="130.18" y2="530.5" stroke="#5a5a5a" stroke-width="0.9"/>
<line x1="128.18" y1="520.3" x2="132.18" y2="520.3" stroke="#5a5a5a" stroke-width="0.9"/>
<line x1="130.18" y1="552" x2="130.18" y2="563.8" stroke="#5a5a5a" stroke-width="0.9"/>
<line x1="128.18" y1="563.8" x2="132.18" y2="563.8" stroke="#5a5a5a" stroke-width="0.9"/>
<rect x="126.13" y="530.5" width="8.1" height="21.5" fill="#4a94ee" stroke="#0e2e5e" stroke-width="0.9"/>
<line x1="126.13" y1="543.4" x2="134.23" y2="543.4" stroke="#0e2e5e" stroke-width="0.9"/>
<line x1="142.59" y1="541.5" x2="142.59" y2="543.4" stroke="#5a5a5a" stroke-width="0.9"/>
<line x1="140.59" y1="541.5" x2="144.59" y2="541.5" stroke="#5a5a5a" stroke-width="0.9"/>
<line x1="142.59" y1="556.2" x2="142.59" y2="558.8" stroke="#5a5a5a" stroke-width="0.9"/>
<line x1="140.59" y1="558.8" x2="144.59" y2="558.8" stroke="#5a5a5a" stroke-width="0.9"/>
<rect x="138.54" y="543.4" width="8.1" height="12.8" fill="#c8a6ee" stroke="#463462" stroke-width="0.9"/>
<line x1="138.54" y1="546.2" x2="146.64" y2="546.2" stroke="#463462" stroke-width="0.9"/>
<line x1="155" y1="523.1" x2="155" y2="533.1" stroke="#5a5a5a" stroke-width="0.9"/>
<line x1="153" y1="523.1" x2="157" y2="523.1" stroke="#5a5a5a" stroke-width="0.9"/>
<line x1="155" y1="558.2" x2="155" y2="564.3" stroke="#5a5a5a" stroke-width="0.9"/>
<line x1="153" y1="564.3" x2="157" y2="564.3" stroke="#5a5a5a" stroke-width="0.9"/>
<rect x="150.95" y="533.1" width="8.1" height="25.1" fill="#7a30f0" stroke="#2c0e6e" stroke-width="0.9"/>
<line x1="150.95" y1="540.8" x2="159.05" y2="540.8" stroke="#2c0e6e" stroke-width="0.9"/>
<line x1="167.4" y1="539.2" x2="167.4" y2="542.3" stroke="#5a5a5a" stroke-width="0.9"/>
<line x1="165.4" y1="539.2" x2="169.4" y2="539.2" stroke="#5a5a5a" stroke-width="0.9"/>
<line x1="167.4" y1="547.7" x2="167.4" y2="550.5" stroke="#5a5a5a" stroke-width="0.9"/>
<line x1="165.4" y1="550.5" x2="169.4" y2="550.5" stroke="#5a5a5a" stroke-width="0.9"/>
<rect x="163.35" y="542.3" width="8.1" height="5.4" fill="#a8a8a8" stroke="#444444" stroke-width="0.9"/>
<line x1="163.35" y1="544.9" x2="171.45" y2="544.9" stroke="#444444" stroke-width="0.9"/>
<line x1="179.81" y1="522.3" x2="179.81" y2="530.5" stroke="#5a5a5a" stroke-width="0.9"/>
<line x1="177.81" y1="522.3" x2="181.81" y2="522.3" stroke="#5a5a5a" stroke-width="0.9"/>
<line x1="179.81" y1="544.9" x2="179.81" y2="547.4" stroke="#5a5a5a" stroke-width="0.9"/>
<line x1="177.81" y1="547.4" x2="181.81" y2="547.4" stroke="#5a5a5a" stroke-width="0.9"/>
<rect x="175.76" y="530.5" width="8.1" height="14.4" fill="#5a5a5a" stroke="#1e1e1e" stroke-width="0.9"/>
<line x1="175.76" y1="540.3" x2="183.86" y2="540.3" stroke="#1e1e1e" stroke-width="0.9"/>
<path d="M49.4 496.3V587.3H185.8" fill="none" stroke="#3a3a3a" stroke-width="1"/>
<line x1="47.6" y1="496.3" x2="49.4" y2="496.3" stroke="#3a3a3a" stroke-width="0.8"/>
<text x="47.5" y="499" class="t">3</text>
<line x1="47.6" y1="511.47" x2="49.4" y2="511.47" stroke="#3a3a3a" stroke-width="0.8"/>
<text x="47.5" y="514.17" class="t">2</text>
<line x1="47.6" y1="526.63" x2="49.4" y2="526.63" stroke="#3a3a3a" stroke-width="0.8"/>
<text x="47.5" y="529.33" class="t">1</text>
<line x1="47.6" y1="541.8" x2="49.4" y2="541.8" stroke="#3a3a3a" stroke-width="0.8"/>
<text x="47.5" y="544.5" class="t">0</text>
<line x1="47.6" y1="556.97" x2="49.4" y2="556.97" stroke="#3a3a3a" stroke-width="0.8"/>
<text x="47.5" y="559.67" class="t">-1</text>
<line x1="47.6" y1="572.13" x2="49.4" y2="572.13" stroke="#3a3a3a" stroke-width="0.8"/>
<text x="47.5" y="574.83" class="t">-2</text>
<line x1="47.6" y1="587.3" x2="49.4" y2="587.3" stroke="#3a3a3a" stroke-width="0.8"/>
<text x="47.5" y="590" class="t">-3</text>
<line x1="55.74" y1="587.3" x2="55.74" y2="589.1" stroke="#3a3a3a" stroke-width="0.8"/>
<line x1="68.15" y1="587.3" x2="68.15" y2="589.1" stroke="#3a3a3a" stroke-width="0.8"/>
<line x1="80.55" y1="587.3" x2="80.55" y2="589.1" stroke="#3a3a3a" stroke-width="0.8"/>
<line x1="92.96" y1="587.3" x2="92.96" y2="589.1" stroke="#3a3a3a" stroke-width="0.8"/>
<line x1="105.37" y1="587.3" x2="105.37" y2="589.1" stroke="#3a3a3a" stroke-width="0.8"/>
<line x1="117.78" y1="587.3" x2="117.78" y2="589.1" stroke="#3a3a3a" stroke-width="0.8"/>
<line x1="130.18" y1="587.3" x2="130.18" y2="589.1" stroke="#3a3a3a" stroke-width="0.8"/>
<line x1="142.59" y1="587.3" x2="142.59" y2="589.1" stroke="#3a3a3a" stroke-width="0.8"/>
<line x1="155" y1="587.3" x2="155" y2="589.1" stroke="#3a3a3a" stroke-width="0.8"/>
<line x1="167.4" y1="587.3" x2="167.4" y2="589.1" stroke="#3a3a3a" stroke-width="0.8"/>
<line x1="179.81" y1="587.3" x2="179.81" y2="589.1" stroke="#3a3a3a" stroke-width="0.8"/>
<text x="115.5" y="608.9" class="l">p4EBP1</text>
<line x1="214.2" y1="541.8" x2="350.6" y2="541.8" stroke="#d2d2d2" stroke-width="0.9"/>
<rect x="216.3" y="534.1" width="8.1" height="5.4" fill="#e040ec" stroke="#5e1064" stroke-width="0.9"/>
<line x1="216.3" y1="537" x2="224.4" y2="537" stroke="#5e1064" stroke-width="0.9"/>
<rect x="228.73" y="542" width="8.1" height="1" fill="#f2a49c" stroke="#602826" stroke-width="0.9"/>
<line x1="228.73" y1="542.5" x2="236.83" y2="542.5" stroke="#602826" stroke-width="0.9"/>
<rect x="241.17" y="539.2" width="8.1" height="3" fill="#ee2e16" stroke="#5c0a04" stroke-width="0.9"/>
<line x1="241.17" y1="540.7" x2="249.27" y2="540.7" stroke="#5c0a04" stroke-width="0.9"/>
<line x1="257.65" y1="540" x2="257.65" y2="541.3" stroke="#5a5a5a" stroke-width="0.9"/>
<line x1="255.65" y1="540" x2="259.65" y2="540" stroke="#5a5a5a" stroke-width="0.9"/>
<line x1="257.65" y1="543.6" x2="257.65" y2="546.2" stroke="#5a5a5a" stroke-width="0.9"/>
<line x1="255.65" y1="546.2" x2="259.65" y2="546.2" stroke="#5a5a5a" stroke-width="0.9"/>
<rect x="253.6" y="541.3" width="8.1" height="2.3" fill="#c2dcb0" stroke="#38462f" stroke-width="0.9"/>
<line x1="253.6" y1="542.45" x2="261.7" y2="542.45" stroke="#38462f" stroke-width="0.9"/>
<line x1="270.09" y1="532.4" x2="270.09" y2="538.8" stroke="#5a5a5a" stroke-width="0.9"/>
<line x1="268.09" y1="532.4" x2="272.09" y2="532.4" stroke="#5a5a5a" stroke-width="0.9"/>
<line x1="270.09" y1="541.5" x2="270.09" y2="543.6" stroke="#5a5a5a" stroke-width="0.9"/>
<line x1="268.09" y1="543.6" x2="272.09" y2="543.6" stroke="#5a5a5a" stroke-width="0.9"/>
<rect x="266.04" y="538.8" width="8.1" height="2.7" fill="#4c9a22" stroke="#163608" stroke-width="0.9"/>
<line x1="266.04" y1="540.15" x2="274.14" y2="540.15" stroke="#163608" stroke-width="0.9"/>
<rect x="278.47" y="539.2" width="8.1" height="6.2" fill="#b8d6f6" stroke="#2c3a52" stroke-width="0.9"/>
<line x1="278.47" y1="542" x2="286.57" y2="542" stroke="#2c3a52" stroke-width="0.9"/>
<line x1="294.95" y1="531.1" x2="294.95" y2="538.8" stroke="#5a5a5a" stroke-width="0.9"/>
<line x1="292.95" y1="531.1" x2="296.95" y2="531.1" stroke="#5a5a5a" stroke-width="0.9"/>
<line x1="294.95" y1="541.5" x2="294.95" y2="549.5" stroke="#5a5a5a" stroke-width="0.9"/>
<line x1="292.95" y1="549.5" x2="296.95" y2="549.5" stroke="#5a5a5a" stroke-width="0.9"/>
<rect x="290.9" y="538.8" width="8.1" height="2.7" fill="#4a94ee" stroke="#0e2e5e" stroke-width="0.9"/>
<line x1="290.9" y1="540.15" x2="299" y2="540.15" stroke="#0e2e5e" stroke-width="0.9"/>
<line x1="307.39" y1="544.3" x2="307.39" y2="546.2" stroke="#5a5a5a" stroke-width="0.9"/>
<line x1="305.39" y1="546.2" x2="309.39" y2="546.2" stroke="#5a5a5a" stroke-width="0.9"/>
<rect x="303.34" y="541.8" width="8.1" height="2.5" fill="#c8a6ee" stroke="#463462" stroke-width="0.9"/>
<line x1="303.34" y1="543.05" x2="311.44" y2="543.05" stroke="#463462" stroke-width="0.9"/>
<line x1="319.82" y1="538.2" x2="319.82" y2="540.8" stroke="#5a5a5a" stroke-width="0.9"/>
<line x1="317.82" y1="538.2" x2="321.82" y2="538.2" stroke="#5a5a5a" stroke-width="0.9"/>
<line x1="319.82" y1="544.3" x2="319.82" y2="548.5" stroke="#5a5a5a" stroke-width="0.9"/>
<line x1="317.82" y1="548.5" x2="321.82" y2="548.5" stroke="#5a5a5a" stroke-width="0.9"/>
<rect x="315.77" y="540.8" width="8.1" height="3.5" fill="#7a30f0" stroke="#2c0e6e" stroke-width="0.9"/>
<line x1="315.77" y1="542.55" x2="323.87" y2="542.55" stroke="#2c0e6e" stroke-width="0.9"/>
<rect x="328.21" y="541.8" width="8.1" height="8.7" fill="#a8a8a8" stroke="#444444" stroke-width="0.9"/>
<line x1="328.21" y1="546" x2="336.31" y2="546" stroke="#444444" stroke-width="0.9"/>
<rect x="340.64" y="537.7" width="8.1" height="3.5" fill="#5a5a5a" stroke="#1e1e1e" stroke-width="0.9"/>
<line x1="340.64" y1="539.45" x2="348.74" y2="539.45" stroke="#1e1e1e" stroke-width="0.9"/>
<path d="M214.2 496.3V587.3H350.6" fill="none" stroke="#3a3a3a" stroke-width="1"/>
<line x1="212.4" y1="496.3" x2="214.2" y2="496.3" stroke="#3a3a3a" stroke-width="0.8"/>
<text x="212.3" y="499" class="t">3</text>
<line x1="212.4" y1="511.47" x2="214.2" y2="511.47" stroke="#3a3a3a" stroke-width="0.8"/>
<text x="212.3" y="514.17" class="t">2</text>
<line x1="212.4" y1="526.63" x2="214.2" y2="526.63" stroke="#3a3a3a" stroke-width="0.8"/>
<text x="212.3" y="529.33" class="t">1</text>
<line x1="212.4" y1="541.8" x2="214.2" y2="541.8" stroke="#3a3a3a" stroke-width="0.8"/>
<text x="212.3" y="544.5" class="t">0</text>
<line x1="212.4" y1="556.97" x2="214.2" y2="556.97" stroke="#3a3a3a" stroke-width="0.8"/>
<text x="212.3" y="559.67" class="t">-1</text>
<line x1="212.4" y1="572.13" x2="214.2" y2="572.13" stroke="#3a3a3a" stroke-width="0.8"/>
<text x="212.3" y="574.83" class="t">-2</text>
<line x1="212.4" y1="587.3" x2="214.2" y2="587.3" stroke="#3a3a3a" stroke-width="0.8"/>
<text x="212.3" y="590" class="t">-3</text>
<line x1="220.35" y1="587.3" x2="220.35" y2="589.1" stroke="#3a3a3a" stroke-width="0.8"/>
<line x1="232.78" y1="587.3" x2="232.78" y2="589.1" stroke="#3a3a3a" stroke-width="0.8"/>
<line x1="245.22" y1="587.3" x2="245.22" y2="589.1" stroke="#3a3a3a" stroke-width="0.8"/>
<line x1="257.65" y1="587.3" x2="257.65" y2="589.1" stroke="#3a3a3a" stroke-width="0.8"/>
<line x1="270.09" y1="587.3" x2="270.09" y2="589.1" stroke="#3a3a3a" stroke-width="0.8"/>
<line x1="282.52" y1="587.3" x2="282.52" y2="589.1" stroke="#3a3a3a" stroke-width="0.8"/>
<line x1="294.95" y1="587.3" x2="294.95" y2="589.1" stroke="#3a3a3a" stroke-width="0.8"/>
<line x1="307.39" y1="587.3" x2="307.39" y2="589.1" stroke="#3a3a3a" stroke-width="0.8"/>
<line x1="319.82" y1="587.3" x2="319.82" y2="589.1" stroke="#3a3a3a" stroke-width="0.8"/>
<line x1="332.26" y1="587.3" x2="332.26" y2="589.1" stroke="#3a3a3a" stroke-width="0.8"/>
<line x1="344.69" y1="587.3" x2="344.69" y2="589.1" stroke="#3a3a3a" stroke-width="0.8"/>
<text x="281.4" y="608.9" class="l">peIF4E</text>
<line x1="378.9" y1="541.8" x2="515.3" y2="541.8" stroke="#d2d2d2" stroke-width="0.9"/>
<line x1="385.38" y1="531.8" x2="385.38" y2="537.2" stroke="#5a5a5a" stroke-width="0.9"/>
<line x1="383.38" y1="531.8" x2="387.38" y2="531.8" stroke="#5a5a5a" stroke-width="0.9"/>
<rect x="381.33" y="537.2" width="8.1" height="4.6" fill="#e040ec" stroke="#5e1064" stroke-width="0.9"/>
<line x1="381.33" y1="539.5" x2="389.43" y2="539.5" stroke="#5e1064" stroke-width="0.9"/>
<rect x="393.72" y="539.1" width="8.1" height="3.1" fill="#f2a49c" stroke="#602826" stroke-width="0.9"/>
<line x1="393.72" y1="540.65" x2="401.82" y2="540.65" stroke="#602826" stroke-width="0.9"/>
<line x1="410.17" y1="538.2" x2="410.17" y2="539.9" stroke="#5a5a5a" stroke-width="0.9"/>
<line x1="408.17" y1="538.2" x2="412.17" y2="538.2" stroke="#5a5a5a" stroke-width="0.9"/>
<rect x="406.12" y="539.9" width="8.1" height="3" fill="#ee2e16" stroke="#5c0a04" stroke-width="0.9"/>
<line x1="406.12" y1="541.4" x2="414.22" y2="541.4" stroke="#5c0a04" stroke-width="0.9"/>
<line x1="422.56" y1="537.2" x2="422.56" y2="538.8" stroke="#5a5a5a" stroke-width="0.9"/>
<line x1="420.56" y1="537.2" x2="424.56" y2="537.2" stroke="#5a5a5a" stroke-width="0.9"/>
<rect x="418.51" y="538.8" width="8.1" height="3.8" fill="#c2dcb0" stroke="#38462f" stroke-width="0.9"/>
<line x1="418.51" y1="540.7" x2="426.62" y2="540.7" stroke="#38462f" stroke-width="0.9"/>
<line x1="434.96" y1="534.5" x2="434.96" y2="537.8" stroke="#5a5a5a" stroke-width="0.9"/>
<line x1="432.96" y1="534.5" x2="436.96" y2="534.5" stroke="#5a5a5a" stroke-width="0.9"/>
<line x1="434.96" y1="541.8" x2="434.96" y2="543" stroke="#5a5a5a" stroke-width="0.9"/>
<line x1="432.96" y1="543" x2="436.96" y2="543" stroke="#5a5a5a" stroke-width="0.9"/>
<rect x="430.91" y="537.8" width="8.1" height="4" fill="#4c9a22" stroke="#163608" stroke-width="0.9"/>
<line x1="430.91" y1="539.8" x2="439.01" y2="539.8" stroke="#163608" stroke-width="0.9"/>
<line x1="447.36" y1="542.3" x2="447.36" y2="543.8" stroke="#5a5a5a" stroke-width="0.9"/>
<line x1="445.36" y1="543.8" x2="449.36" y2="543.8" stroke="#5a5a5a" stroke-width="0.9"/>
<rect x="443.31" y="538.2" width="8.1" height="4.1" fill="#b8d6f6" stroke="#2c3a52" stroke-width="0.9"/>
<line x1="443.31" y1="540.25" x2="451.41" y2="540.25" stroke="#2c3a52" stroke-width="0.9"/>
<line x1="459.75" y1="531.5" x2="459.75" y2="537.7" stroke="#5a5a5a" stroke-width="0.9"/>
<line x1="457.75" y1="531.5" x2="461.75" y2="531.5" stroke="#5a5a5a" stroke-width="0.9"/>
<rect x="455.7" y="537.7" width="8.1" height="4.1" fill="#4a94ee" stroke="#0e2e5e" stroke-width="0.9"/>
<line x1="455.7" y1="539.75" x2="463.8" y2="539.75" stroke="#0e2e5e" stroke-width="0.9"/>
<line x1="472.14" y1="542.3" x2="472.14" y2="543.8" stroke="#5a5a5a" stroke-width="0.9"/>
<line x1="470.14" y1="543.8" x2="474.14" y2="543.8" stroke="#5a5a5a" stroke-width="0.9"/>
<rect x="468.09" y="538.5" width="8.1" height="3.8" fill="#c8a6ee" stroke="#463462" stroke-width="0.9"/>
<line x1="468.09" y1="540.4" x2="476.19" y2="540.4" stroke="#463462" stroke-width="0.9"/>
<line x1="484.54" y1="536.2" x2="484.54" y2="538.2" stroke="#5a5a5a" stroke-width="0.9"/>
<line x1="482.54" y1="536.2" x2="486.54" y2="536.2" stroke="#5a5a5a" stroke-width="0.9"/>
<line x1="484.54" y1="541.8" x2="484.54" y2="543.4" stroke="#5a5a5a" stroke-width="0.9"/>
<line x1="482.54" y1="543.4" x2="486.54" y2="543.4" stroke="#5a5a5a" stroke-width="0.9"/>
<rect x="480.49" y="538.2" width="8.1" height="3.6" fill="#7a30f0" stroke="#2c0e6e" stroke-width="0.9"/>
<line x1="480.49" y1="540" x2="488.59" y2="540" stroke="#2c0e6e" stroke-width="0.9"/>
<rect x="492.88" y="538.8" width="8.1" height="4" fill="#a8a8a8" stroke="#444444" stroke-width="0.9"/>
<line x1="492.88" y1="540.8" x2="500.99" y2="540.8" stroke="#444444" stroke-width="0.9"/>
<line x1="509.33" y1="538.2" x2="509.33" y2="540" stroke="#5a5a5a" stroke-width="0.9"/>
<line x1="507.33" y1="538.2" x2="511.33" y2="538.2" stroke="#5a5a5a" stroke-width="0.9"/>
<line x1="509.33" y1="541.5" x2="509.33" y2="543" stroke="#5a5a5a" stroke-width="0.9"/>
<line x1="507.33" y1="543" x2="511.33" y2="543" stroke="#5a5a5a" stroke-width="0.9"/>
<rect x="505.28" y="540" width="8.1" height="1.5" fill="#5a5a5a" stroke="#1e1e1e" stroke-width="0.9"/>
<line x1="505.28" y1="540.75" x2="513.38" y2="540.75" stroke="#1e1e1e" stroke-width="0.9"/>
<path d="M378.9 496.3V587.3H515.3" fill="none" stroke="#3a3a3a" stroke-width="1"/>
<line x1="377.1" y1="496.3" x2="378.9" y2="496.3" stroke="#3a3a3a" stroke-width="0.8"/>
<text x="377" y="499" class="t">3</text>
<line x1="377.1" y1="511.47" x2="378.9" y2="511.47" stroke="#3a3a3a" stroke-width="0.8"/>
<text x="377" y="514.17" class="t">2</text>
<line x1="377.1" y1="526.63" x2="378.9" y2="526.63" stroke="#3a3a3a" stroke-width="0.8"/>
<text x="377" y="529.33" class="t">1</text>
<line x1="377.1" y1="541.8" x2="378.9" y2="541.8" stroke="#3a3a3a" stroke-width="0.8"/>
<text x="377" y="544.5" class="t">0</text>
<line x1="377.1" y1="556.97" x2="378.9" y2="556.97" stroke="#3a3a3a" stroke-width="0.8"/>
<text x="377" y="559.67" class="t">-1</text>
<line x1="377.1" y1="572.13" x2="378.9" y2="572.13" stroke="#3a3a3a" stroke-width="0.8"/>
<text x="377" y="574.83" class="t">-2</text>
<line x1="377.1" y1="587.3" x2="378.9" y2="587.3" stroke="#3a3a3a" stroke-width="0.8"/>
<text x="377" y="590" class="t">-3</text>
<line x1="385.38" y1="587.3" x2="385.38" y2="589.1" stroke="#3a3a3a" stroke-width="0.8"/>
<line x1="397.77" y1="587.3" x2="397.77" y2="589.1" stroke="#3a3a3a" stroke-width="0.8"/>
<line x1="410.17" y1="587.3" x2="410.17" y2="589.1" stroke="#3a3a3a" stroke-width="0.8"/>
<line x1="422.56" y1="587.3" x2="422.56" y2="589.1" stroke="#3a3a3a" stroke-width="0.8"/>
<line x1="434.96" y1="587.3" x2="434.96" y2="589.1" stroke="#3a3a3a" stroke-width="0.8"/>
<line x1="447.36" y1="587.3" x2="447.36" y2="589.1" stroke="#3a3a3a" stroke-width="0.8"/>
<line x1="459.75" y1="587.3" x2="459.75" y2="589.1" stroke="#3a3a3a" stroke-width="0.8"/>
<line x1="472.14" y1="587.3" x2="472.14" y2="589.1" stroke="#3a3a3a" stroke-width="0.8"/>
<line x1="484.54" y1="587.3" x2="484.54" y2="589.1" stroke="#3a3a3a" stroke-width="0.8"/>
<line x1="496.94" y1="587.3" x2="496.94" y2="589.1" stroke="#3a3a3a" stroke-width="0.8"/>
<line x1="509.33" y1="587.3" x2="509.33" y2="589.1" stroke="#3a3a3a" stroke-width="0.8"/>
<text x="445.5" y="608.9" class="l">pERK</text>
</svg>
</body></html>
